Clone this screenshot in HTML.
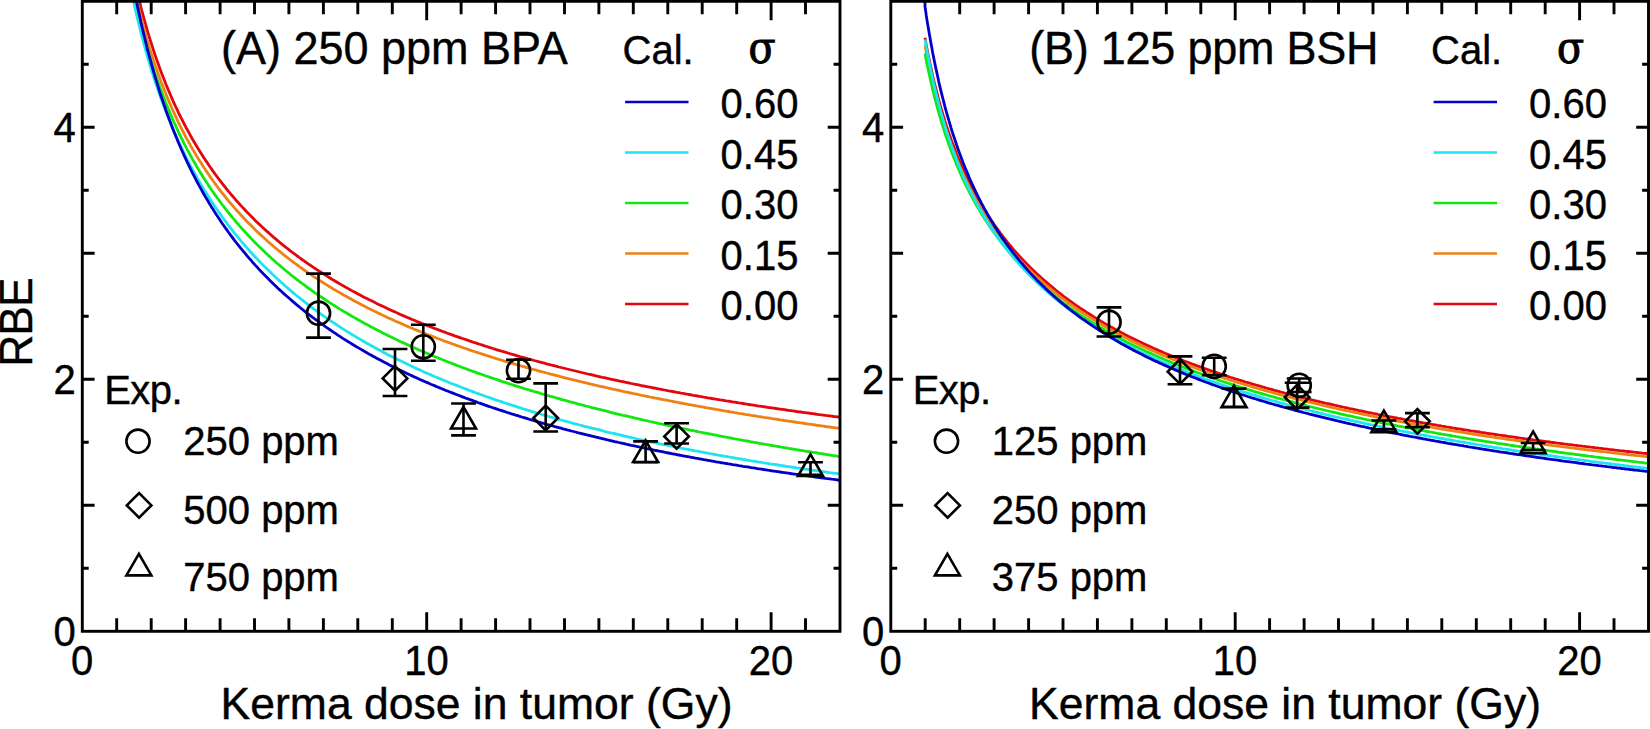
<!DOCTYPE html><html><head><meta charset="utf-8"><title>RBE vs kerma dose</title>
<style>html,body{margin:0;padding:0;background:#fff}svg{display:block}text{font-family:"Liberation Sans",Arial,sans-serif;fill:#000;stroke:#000;stroke-width:.4px}.s{font-family:"DejaVu Serif","Liberation Serif",serif}</style></head><body>
<svg width="1650" height="729" viewBox="0 0 1650 729">
<rect width="1650" height="729" fill="#fff"/>
<defs><clipPath id="ca"><rect x="82.3" y="1.3" width="757.7" height="630.0"/></clipPath><clipPath id="cb"><rect x="890.8" y="1.3" width="757.7" height="630.0"/></clipPath></defs>
<g clip-path="url(#ca)" fill="none" stroke-width="2.8" stroke-linejoin="round">
<path stroke="#e2060e" d="M132.6,-28.4 133.3,-25.1 134.0,-22.0 134.6,-18.9 135.3,-15.8 136.0,-12.8 136.7,-9.9 137.4,-7.0 138.1,-4.1 138.8,-1.3 139.5,1.5 140.2,4.2 140.8,6.9 141.5,9.5 142.2,12.2 142.9,14.7 143.6,17.3 144.3,19.8 145.0,22.2 145.7,24.7 146.4,27.1 147.0,29.4 147.7,31.8 148.4,34.1 149.1,36.4 149.8,38.6 150.5,40.8 151.2,43.0 151.9,45.2 152.6,47.3 153.2,49.4 153.9,51.5 154.6,53.6 155.3,55.6 156.0,57.6 156.7,59.6 157.4,61.6 158.1,63.5 158.8,65.4 159.4,67.3 160.1,69.2 160.8,71.0 161.5,72.9 162.2,74.7 162.9,76.5 163.6,78.3 164.3,80.0 165.0,81.8 165.6,83.5 166.3,85.2 167.0,86.9 167.7,88.5 168.4,90.2 169.1,91.8 169.8,93.4 170.5,95.0 171.2,96.6 171.8,98.2 172.5,99.7 173.2,101.3 173.9,102.8 174.6,104.3 175.3,105.8 176.0,107.3 176.7,108.7 177.4,110.2 178.0,111.6 178.7,113.1 179.4,114.5 180.1,115.9 180.8,117.3 181.5,118.7 182.2,120.0 182.9,121.4 183.6,122.7 184.2,124.0 184.9,125.4 185.6,126.7 186.3,128.0 187.0,129.2 187.7,130.5 188.4,131.8 189.1,133.0 189.8,134.3 190.4,135.5 191.1,136.7 191.8,138.0 192.5,139.2 193.2,140.4 193.9,141.5 194.6,142.7 195.3,143.9 196.0,145.0 196.6,146.2 197.3,147.3 198.0,148.5 198.7,149.6 199.4,150.7 200.1,151.8 200.8,152.9 201.5,154.0 202.2,155.1 202.8,156.1 203.5,157.2 204.2,158.3 204.9,159.3 205.6,160.4 206.3,161.4 207.0,162.4 207.7,163.4 208.4,164.5 209.0,165.5 209.7,166.5 210.4,167.5 211.1,168.4 211.8,169.4 212.5,170.4 213.2,171.4 213.9,172.3 214.5,173.3 215.2,174.2 215.9,175.2 216.6,176.1 217.3,177.0 218.0,178.0 218.7,178.9 219.4,179.8 220.1,180.7 222.1,183.4 224.2,186.0 226.3,188.6 228.3,191.1 230.4,193.6 232.5,196.0 234.5,198.4 236.6,200.8 238.7,203.1 240.7,205.4 242.8,207.6 244.9,209.8 246.9,212.0 249.0,214.1 251.1,216.3 253.1,218.3 255.2,220.4 257.3,222.4 259.3,224.3 261.4,226.3 263.5,228.2 265.5,230.1 267.6,231.9 269.7,233.8 271.7,235.6 273.8,237.4 275.9,239.1 277.9,240.9 280.0,242.6 282.1,244.3 284.1,245.9 286.2,247.6 288.3,249.2 290.3,250.8 292.4,252.4 294.5,253.9 296.5,255.5 298.6,257.0 300.6,258.5 302.7,260.0 304.8,261.4 306.8,262.9 308.9,264.3 311.0,265.7 313.0,267.1 315.1,268.5 317.2,269.9 319.2,271.2 321.3,272.5 323.4,273.9 325.4,275.2 327.5,276.4 329.6,277.7 331.6,279.0 333.7,280.2 335.8,281.5 337.8,282.7 339.9,283.9 342.0,285.1 344.0,286.3 346.1,287.4 348.2,288.6 350.2,289.7 352.3,290.9 354.4,292.0 356.4,293.1 358.5,294.2 360.6,295.3 362.6,296.4 364.7,297.5 366.8,298.5 368.8,299.6 370.9,300.6 373.0,301.6 375.0,302.6 377.1,303.7 379.2,304.7 381.2,305.6 383.3,306.6 385.4,307.6 387.4,308.6 389.5,309.5 391.6,310.5 393.6,311.4 395.7,312.3 397.8,313.2 399.8,314.2 401.9,315.1 404.0,316.0 406.0,316.9 408.1,317.7 410.2,318.6 412.2,319.5 414.3,320.3 416.4,321.2 418.4,322.0 420.5,322.9 422.6,323.7 424.6,324.5 426.7,325.4 428.8,326.2 430.8,327.0 432.9,327.8 435.0,328.6 437.0,329.3 439.1,330.1 441.2,330.9 443.2,331.7 445.3,332.4 447.4,333.2 449.4,333.9 451.5,334.7 453.6,335.4 455.6,336.2 457.7,336.9 459.8,337.6 461.8,338.3 463.9,339.0 466.0,339.7 468.0,340.4 470.1,341.1 472.2,341.8 474.2,342.5 476.3,343.2 478.4,343.9 480.4,344.5 482.5,345.2 484.6,345.9 486.6,346.5 488.7,347.2 490.8,347.8 492.8,348.5 494.9,349.1 497.0,349.8 499.0,350.4 501.1,351.0 503.2,351.6 505.2,352.2 507.3,352.9 509.4,353.5 511.4,354.1 513.5,354.7 515.6,355.3 517.6,355.9 519.7,356.5 521.8,357.0 523.8,357.6 525.9,358.2 528.0,358.8 530.0,359.3 532.1,359.9 534.2,360.5 536.2,361.0 538.3,361.6 540.4,362.1 542.4,362.7 544.5,363.2 546.6,363.8 548.6,364.3 550.7,364.9 552.8,365.4 554.8,365.9 556.9,366.4 558.9,367.0 561.0,367.5 563.1,368.0 565.1,368.5 567.2,369.0 569.3,369.5 571.3,370.0 573.4,370.5 575.5,371.0 577.5,371.5 579.6,372.0 581.7,372.5 583.7,373.0 585.8,373.5 587.9,374.0 589.9,374.4 592.0,374.9 594.1,375.4 596.1,375.9 598.2,376.3 600.3,376.8 602.3,377.3 604.4,377.7 606.5,378.2 608.5,378.6 610.6,379.1 612.7,379.5 614.7,380.0 616.8,380.4 618.9,380.9 620.9,381.3 623.0,381.7 625.1,382.2 627.1,382.6 629.2,383.0 631.3,383.5 633.3,383.9 635.4,384.3 637.5,384.7 639.5,385.1 641.6,385.6 643.7,386.0 645.7,386.4 647.8,386.8 649.9,387.2 651.9,387.6 654.0,388.0 656.1,388.4 658.1,388.8 660.2,389.2 662.3,389.6 664.3,390.0 666.4,390.4 668.5,390.8 670.5,391.1 672.6,391.5 674.7,391.9 676.7,392.3 678.8,392.7 680.9,393.1 682.9,393.4 685.0,393.8 687.1,394.2 689.1,394.5 691.2,394.9 693.3,395.3 695.3,395.6 697.4,396.0 699.5,396.4 701.5,396.7 703.6,397.1 705.7,397.4 707.7,397.8 709.8,398.1 711.9,398.5 713.9,398.8 716.0,399.2 718.1,399.5 720.1,399.9 722.2,400.2 724.3,400.5 726.3,400.9 728.4,401.2 730.5,401.5 732.5,401.9 734.6,402.2 736.7,402.5 738.7,402.9 740.8,403.2 742.9,403.5 744.9,403.8 747.0,404.2 749.1,404.5 751.1,404.8 753.2,405.1 755.3,405.4 757.3,405.8 759.4,406.1 761.5,406.4 763.5,406.7 765.6,407.0 767.7,407.3 769.7,407.6 771.8,407.9 773.9,408.2 775.9,408.5 778.0,408.8 780.1,409.1 782.1,409.4 784.2,409.7 786.3,410.0 788.3,410.3 790.4,410.6 792.5,410.9 794.5,411.2 796.6,411.5 798.7,411.8 800.7,412.0 802.8,412.3 804.9,412.6 806.9,412.9 809.0,413.2 811.1,413.5 813.1,413.7 815.2,414.0 817.2,414.3 819.3,414.6 821.4,414.8 823.4,415.1 825.5,415.4 827.6,415.6 829.6,415.9 831.7,416.2 833.8,416.5 835.8,416.7 837.9,417.0 840.0,417.2 840.0,417.2"/>
<path stroke="#ee8014" d="M130.5,-28.7 131.2,-25.3 131.9,-22.0 132.6,-18.7 133.3,-15.4 134.0,-12.3 134.6,-9.2 135.3,-6.1 136.0,-3.1 136.7,-0.1 137.4,2.8 138.1,5.7 138.8,8.5 139.5,11.3 140.2,14.1 140.8,16.8 141.5,19.4 142.2,22.0 142.9,24.6 143.6,27.2 144.3,29.7 145.0,32.2 145.7,34.6 146.4,37.0 147.0,39.4 147.7,41.7 148.4,44.0 149.1,46.3 149.8,48.6 150.5,50.8 151.2,53.0 151.9,55.2 152.6,57.3 153.2,59.4 153.9,61.5 154.6,63.6 155.3,65.6 156.0,67.6 156.7,69.6 157.4,71.5 158.1,73.5 158.8,75.4 159.4,77.3 160.1,79.2 160.8,81.0 161.5,82.9 162.2,84.7 162.9,86.5 163.6,88.2 164.3,90.0 165.0,91.7 165.6,93.4 166.3,95.1 167.0,96.8 167.7,98.5 168.4,100.1 169.1,101.8 169.8,103.4 170.5,105.0 171.2,106.6 171.8,108.1 172.5,109.7 173.2,111.2 173.9,112.7 174.6,114.2 175.3,115.7 176.0,117.2 176.7,118.7 177.4,120.1 178.0,121.5 178.7,123.0 179.4,124.4 180.1,125.8 180.8,127.2 181.5,128.5 182.2,129.9 182.9,131.2 183.6,132.6 184.2,133.9 184.9,135.2 185.6,136.5 186.3,137.8 187.0,139.1 187.7,140.4 188.4,141.6 189.1,142.9 189.8,144.1 190.4,145.3 191.1,146.6 191.8,147.8 192.5,149.0 193.2,150.2 193.9,151.3 194.6,152.5 195.3,153.7 196.0,154.8 196.6,156.0 197.3,157.1 198.0,158.2 198.7,159.3 199.4,160.4 200.1,161.5 200.8,162.6 201.5,163.7 202.2,164.8 202.8,165.9 203.5,166.9 204.2,168.0 204.9,169.0 205.6,170.1 206.3,171.1 207.0,172.1 207.7,173.1 208.4,174.1 209.0,175.1 209.7,176.1 210.4,177.1 211.1,178.1 211.8,179.1 212.5,180.0 213.2,181.0 213.9,181.9 214.5,182.9 215.2,183.8 215.9,184.8 216.6,185.7 217.3,186.6 218.0,187.5 218.7,188.5 219.4,189.4 220.1,190.3 222.1,192.9 224.2,195.5 226.3,198.1 228.3,200.6 230.4,203.1 232.5,205.5 234.5,207.9 236.6,210.2 238.7,212.5 240.7,214.8 242.8,217.0 244.9,219.2 246.9,221.4 249.0,223.5 251.1,225.6 253.1,227.6 255.2,229.7 257.3,231.7 259.3,233.6 261.4,235.5 263.5,237.4 265.5,239.3 267.6,241.2 269.7,243.0 271.7,244.8 273.8,246.6 275.9,248.3 277.9,250.0 280.0,251.7 282.1,253.4 284.1,255.1 286.2,256.7 288.3,258.3 290.3,259.9 292.4,261.5 294.5,263.0 296.5,264.5 298.6,266.0 300.6,267.5 302.7,269.0 304.8,270.5 306.8,271.9 308.9,273.3 311.0,274.7 313.0,276.1 315.1,277.5 317.2,278.8 319.2,280.2 321.3,281.5 323.4,282.8 325.4,284.1 327.5,285.4 329.6,286.7 331.6,287.9 333.7,289.2 335.8,290.4 337.8,291.6 339.9,292.8 342.0,294.0 344.0,295.2 346.1,296.3 348.2,297.5 350.2,298.6 352.3,299.8 354.4,300.9 356.4,302.0 358.5,303.1 360.6,304.2 362.6,305.3 364.7,306.3 366.8,307.4 368.8,308.4 370.9,309.5 373.0,310.5 375.0,311.5 377.1,312.5 379.2,313.5 381.2,314.5 383.3,315.5 385.4,316.4 387.4,317.4 389.5,318.4 391.6,319.3 393.6,320.2 395.7,321.2 397.8,322.1 399.8,323.0 401.9,323.9 404.0,324.8 406.0,325.7 408.1,326.6 410.2,327.5 412.2,328.3 414.3,329.2 416.4,330.0 418.4,330.9 420.5,331.7 422.6,332.6 424.6,333.4 426.7,334.2 428.8,335.0 430.8,335.8 432.9,336.6 435.0,337.4 437.0,338.2 439.1,339.0 441.2,339.8 443.2,340.6 445.3,341.3 447.4,342.1 449.4,342.8 451.5,343.6 453.6,344.3 455.6,345.1 457.7,345.8 459.8,346.5 461.8,347.2 463.9,348.0 466.0,348.7 468.0,349.4 470.1,350.1 472.2,350.8 474.2,351.5 476.3,352.2 478.4,352.8 480.4,353.5 482.5,354.2 484.6,354.9 486.6,355.5 488.7,356.2 490.8,356.8 492.8,357.5 494.9,358.1 497.0,358.8 499.0,359.4 501.1,360.0 503.2,360.7 505.2,361.3 507.3,361.9 509.4,362.5 511.4,363.1 513.5,363.7 515.6,364.4 517.6,365.0 519.7,365.5 521.8,366.1 523.8,366.7 525.9,367.3 528.0,367.9 530.0,368.5 532.1,369.1 534.2,369.6 536.2,370.2 538.3,370.8 540.4,371.3 542.4,371.9 544.5,372.4 546.6,373.0 548.6,373.5 550.7,374.1 552.8,374.6 554.8,375.2 556.9,375.7 558.9,376.2 561.0,376.8 563.1,377.3 565.1,377.8 567.2,378.3 569.3,378.8 571.3,379.4 573.4,379.9 575.5,380.4 577.5,380.9 579.6,381.4 581.7,381.9 583.7,382.4 585.8,382.9 587.9,383.4 589.9,383.9 592.0,384.3 594.1,384.8 596.1,385.3 598.2,385.8 600.3,386.3 602.3,386.7 604.4,387.2 606.5,387.7 608.5,388.1 610.6,388.6 612.7,389.1 614.7,389.5 616.8,390.0 618.9,390.4 620.9,390.9 623.0,391.3 625.1,391.8 627.1,392.2 629.2,392.7 631.3,393.1 633.3,393.5 635.4,394.0 637.5,394.4 639.5,394.8 641.6,395.3 643.7,395.7 645.7,396.1 647.8,396.5 649.9,397.0 651.9,397.4 654.0,397.8 656.1,398.2 658.1,398.6 660.2,399.0 662.3,399.4 664.3,399.8 666.4,400.2 668.5,400.6 670.5,401.0 672.6,401.4 674.7,401.8 676.7,402.2 678.8,402.6 680.9,403.0 682.9,403.4 685.0,403.8 687.1,404.2 689.1,404.6 691.2,404.9 693.3,405.3 695.3,405.7 697.4,406.1 699.5,406.4 701.5,406.8 703.6,407.2 705.7,407.6 707.7,407.9 709.8,408.3 711.9,408.7 713.9,409.0 716.0,409.4 718.1,409.7 720.1,410.1 722.2,410.5 724.3,410.8 726.3,411.2 728.4,411.5 730.5,411.9 732.5,412.2 734.6,412.6 736.7,412.9 738.7,413.3 740.8,413.6 742.9,413.9 744.9,414.3 747.0,414.6 749.1,414.9 751.1,415.3 753.2,415.6 755.3,415.9 757.3,416.3 759.4,416.6 761.5,416.9 763.5,417.3 765.6,417.6 767.7,417.9 769.7,418.2 771.8,418.6 773.9,418.9 775.9,419.2 778.0,419.5 780.1,419.8 782.1,420.1 784.2,420.5 786.3,420.8 788.3,421.1 790.4,421.4 792.5,421.7 794.5,422.0 796.6,422.3 798.7,422.6 800.7,422.9 802.8,423.2 804.9,423.5 806.9,423.8 809.0,424.1 811.1,424.4 813.1,424.7 815.2,425.0 817.2,425.3 819.3,425.6 821.4,425.9 823.4,426.2 825.5,426.5 827.6,426.8 829.6,427.0 831.7,427.3 833.8,427.6 835.8,427.9 837.9,428.2 840.0,428.5 840.0,428.5"/>
<path stroke="#10e810" d="M129.1,-27.6 129.8,-24.1 130.5,-20.6 131.2,-17.2 131.9,-13.9 132.6,-10.6 133.3,-7.3 134.0,-4.2 134.6,-1.0 135.3,2.0 136.0,5.0 136.7,8.0 137.4,11.0 138.1,13.8 138.8,16.7 139.5,19.5 140.2,22.2 140.8,24.9 141.5,27.6 142.2,30.3 142.9,32.9 143.6,35.4 144.3,38.0 145.0,40.4 145.7,42.9 146.4,45.3 147.0,47.7 147.7,50.1 148.4,52.4 149.1,54.7 149.8,57.0 150.5,59.2 151.2,61.5 151.9,63.6 152.6,65.8 153.2,67.9 153.9,70.0 154.6,72.1 155.3,74.2 156.0,76.2 156.7,78.2 157.4,80.2 158.1,82.2 158.8,84.1 159.4,86.1 160.1,88.0 160.8,89.8 161.5,91.7 162.2,93.5 162.9,95.4 163.6,97.2 164.3,98.9 165.0,100.7 165.6,102.5 166.3,104.2 167.0,105.9 167.7,107.6 168.4,109.3 169.1,110.9 169.8,112.6 170.5,114.2 171.2,115.8 171.8,117.4 172.5,119.0 173.2,120.5 173.9,122.1 174.6,123.6 175.3,125.2 176.0,126.7 176.7,128.2 177.4,129.6 178.0,131.1 178.7,132.6 179.4,134.0 180.1,135.4 180.8,136.8 181.5,138.2 182.2,139.6 182.9,141.0 183.6,142.4 184.2,143.7 184.9,145.1 185.6,146.4 186.3,147.7 187.0,149.1 187.7,150.4 188.4,151.6 189.1,152.9 189.8,154.2 190.4,155.5 191.1,156.7 191.8,157.9 192.5,159.2 193.2,160.4 193.9,161.6 194.6,162.8 195.3,164.0 196.0,165.2 196.6,166.4 197.3,167.5 198.0,168.7 198.7,169.8 199.4,171.0 200.1,172.1 200.8,173.2 201.5,174.3 202.2,175.5 202.8,176.6 203.5,177.6 204.2,178.7 204.9,179.8 205.6,180.9 206.3,181.9 207.0,183.0 207.7,184.0 208.4,185.1 209.0,186.1 209.7,187.1 210.4,188.2 211.1,189.2 211.8,190.2 212.5,191.2 213.2,192.2 213.9,193.1 214.5,194.1 215.2,195.1 215.9,196.1 216.6,197.0 217.3,198.0 218.0,198.9 218.7,199.9 219.4,200.8 220.1,201.7 222.1,204.5 224.2,207.2 226.3,209.9 228.3,212.5 230.4,215.0 232.5,217.5 234.5,220.0 236.6,222.5 238.7,224.8 240.7,227.2 242.8,229.5 244.9,231.8 246.9,234.0 249.0,236.2 251.1,238.4 253.1,240.6 255.2,242.7 257.3,244.8 259.3,246.8 261.4,248.8 263.5,250.8 265.5,252.8 267.6,254.7 269.7,256.6 271.7,258.5 273.8,260.3 275.9,262.2 277.9,264.0 280.0,265.7 282.1,267.5 284.1,269.2 286.2,271.0 288.3,272.6 290.3,274.3 292.4,276.0 294.5,277.6 296.5,279.2 298.6,280.8 300.6,282.4 302.7,283.9 304.8,285.4 306.8,287.0 308.9,288.5 311.0,289.9 313.0,291.4 315.1,292.9 317.2,294.3 319.2,295.7 321.3,297.1 323.4,298.5 325.4,299.9 327.5,301.2 329.6,302.6 331.6,303.9 333.7,305.2 335.8,306.5 337.8,307.8 339.9,309.1 342.0,310.3 344.0,311.6 346.1,312.8 348.2,314.0 350.2,315.2 352.3,316.4 354.4,317.6 356.4,318.8 358.5,320.0 360.6,321.1 362.6,322.3 364.7,323.4 366.8,324.5 368.8,325.6 370.9,326.8 373.0,327.8 375.0,328.9 377.1,330.0 379.2,331.1 381.2,332.1 383.3,333.2 385.4,334.2 387.4,335.2 389.5,336.3 391.6,337.3 393.6,338.3 395.7,339.3 397.8,340.2 399.8,341.2 401.9,342.2 404.0,343.1 406.0,344.1 408.1,345.0 410.2,346.0 412.2,346.9 414.3,347.8 416.4,348.8 418.4,349.7 420.5,350.6 422.6,351.5 424.6,352.3 426.7,353.2 428.8,354.1 430.8,355.0 432.9,355.8 435.0,356.7 437.0,357.5 439.1,358.4 441.2,359.2 443.2,360.0 445.3,360.9 447.4,361.7 449.4,362.5 451.5,363.3 453.6,364.1 455.6,364.9 457.7,365.7 459.8,366.5 461.8,367.3 463.9,368.0 466.0,368.8 468.0,369.6 470.1,370.3 472.2,371.1 474.2,371.8 476.3,372.6 478.4,373.3 480.4,374.0 482.5,374.7 484.6,375.5 486.6,376.2 488.7,376.9 490.8,377.6 492.8,378.3 494.9,379.0 497.0,379.7 499.0,380.4 501.1,381.1 503.2,381.8 505.2,382.4 507.3,383.1 509.4,383.8 511.4,384.5 513.5,385.1 515.6,385.8 517.6,386.4 519.7,387.1 521.8,387.7 523.8,388.4 525.9,389.0 528.0,389.6 530.0,390.3 532.1,390.9 534.2,391.5 536.2,392.1 538.3,392.7 540.4,393.4 542.4,394.0 544.5,394.6 546.6,395.2 548.6,395.8 550.7,396.4 552.8,396.9 554.8,397.5 556.9,398.1 558.9,398.7 561.0,399.3 563.1,399.9 565.1,400.4 567.2,401.0 569.3,401.6 571.3,402.1 573.4,402.7 575.5,403.2 577.5,403.8 579.6,404.3 581.7,404.9 583.7,405.4 585.8,406.0 587.9,406.5 589.9,407.0 592.0,407.6 594.1,408.1 596.1,408.6 598.2,409.2 600.3,409.7 602.3,410.2 604.4,410.7 606.5,411.2 608.5,411.7 610.6,412.3 612.7,412.8 614.7,413.3 616.8,413.8 618.9,414.3 620.9,414.8 623.0,415.3 625.1,415.7 627.1,416.2 629.2,416.7 631.3,417.2 633.3,417.7 635.4,418.2 637.5,418.6 639.5,419.1 641.6,419.6 643.7,420.1 645.7,420.5 647.8,421.0 649.9,421.5 651.9,421.9 654.0,422.4 656.1,422.8 658.1,423.3 660.2,423.7 662.3,424.2 664.3,424.6 666.4,425.1 668.5,425.5 670.5,426.0 672.6,426.4 674.7,426.9 676.7,427.3 678.8,427.7 680.9,428.2 682.9,428.6 685.0,429.0 687.1,429.4 689.1,429.9 691.2,430.3 693.3,430.7 695.3,431.1 697.4,431.5 699.5,432.0 701.5,432.4 703.6,432.8 705.7,433.2 707.7,433.6 709.8,434.0 711.9,434.4 713.9,434.8 716.0,435.2 718.1,435.6 720.1,436.0 722.2,436.4 724.3,436.8 726.3,437.2 728.4,437.6 730.5,438.0 732.5,438.4 734.6,438.8 736.7,439.1 738.7,439.5 740.8,439.9 742.9,440.3 744.9,440.7 747.0,441.0 749.1,441.4 751.1,441.8 753.2,442.2 755.3,442.5 757.3,442.9 759.4,443.3 761.5,443.6 763.5,444.0 765.6,444.4 767.7,444.7 769.7,445.1 771.8,445.5 773.9,445.8 775.9,446.2 778.0,446.5 780.1,446.9 782.1,447.2 784.2,447.6 786.3,447.9 788.3,448.3 790.4,448.6 792.5,449.0 794.5,449.3 796.6,449.7 798.7,450.0 800.7,450.3 802.8,450.7 804.9,451.0 806.9,451.4 809.0,451.7 811.1,452.0 813.1,452.4 815.2,452.7 817.2,453.0 819.3,453.4 821.4,453.7 823.4,454.0 825.5,454.3 827.6,454.7 829.6,455.0 831.7,455.3 833.8,455.6 835.8,455.9 837.9,456.3 840.0,456.6 840.0,456.6"/>
<path stroke="#1ee3f0" d="M127.8,-27.4 128.4,-23.8 129.1,-20.3 129.8,-16.8 130.5,-13.3 131.2,-10.0 131.9,-6.6 132.6,-3.4 133.3,-0.1 134.0,3.0 134.6,6.1 135.3,9.2 136.0,12.2 136.7,15.2 137.4,18.1 138.1,21.0 138.8,23.9 139.5,26.7 140.2,29.5 140.8,32.2 141.5,34.9 142.2,37.5 142.9,40.1 143.6,42.7 144.3,45.3 145.0,47.8 145.7,50.3 146.4,52.7 147.0,55.2 147.7,57.5 148.4,59.9 149.1,62.2 149.8,64.5 150.5,66.8 151.2,69.1 151.9,71.3 152.6,73.5 153.2,75.7 153.9,77.8 154.6,79.9 155.3,82.0 156.0,84.1 156.7,86.1 157.4,88.2 158.1,90.2 158.8,92.2 159.4,94.1 160.1,96.1 160.8,98.0 161.5,99.9 162.2,101.8 162.9,103.6 163.6,105.5 164.3,107.3 165.0,109.1 165.6,110.9 166.3,112.7 167.0,114.4 167.7,116.2 168.4,117.9 169.1,119.6 169.8,121.3 170.5,123.0 171.2,124.6 171.8,126.3 172.5,127.9 173.2,129.5 173.9,131.1 174.6,132.7 175.3,134.3 176.0,135.8 176.7,137.4 177.4,138.9 178.0,140.4 178.7,141.9 179.4,143.4 180.1,144.9 180.8,146.3 181.5,147.8 182.2,149.2 182.9,150.7 183.6,152.1 184.2,153.5 184.9,154.9 185.6,156.3 186.3,157.6 187.0,159.0 187.7,160.3 188.4,161.7 189.1,163.0 189.8,164.3 190.4,165.6 191.1,166.9 191.8,168.2 192.5,169.5 193.2,170.8 193.9,172.0 194.6,173.3 195.3,174.5 196.0,175.7 196.6,177.0 197.3,178.2 198.0,179.4 198.7,180.6 199.4,181.8 200.1,183.0 200.8,184.1 201.5,185.3 202.2,186.4 202.8,187.6 203.5,188.7 204.2,189.9 204.9,191.0 205.6,192.1 206.3,193.2 207.0,194.3 207.7,195.4 208.4,196.5 209.0,197.6 209.7,198.6 210.4,199.7 211.1,200.8 211.8,201.8 212.5,202.9 213.2,203.9 213.9,204.9 214.5,206.0 215.2,207.0 215.9,208.0 216.6,209.0 217.3,210.0 218.0,211.0 218.7,212.0 219.4,213.0 220.1,213.9 222.1,216.8 224.2,219.7 226.3,222.4 228.3,225.2 230.4,227.9 232.5,230.5 234.5,233.1 236.6,235.7 238.7,238.2 240.7,240.7 242.8,243.1 244.9,245.5 246.9,247.9 249.0,250.2 251.1,252.5 253.1,254.7 255.2,257.0 257.3,259.1 259.3,261.3 261.4,263.4 263.5,265.5 265.5,267.6 267.6,269.6 269.7,271.6 271.7,273.6 273.8,275.6 275.9,277.5 277.9,279.4 280.0,281.3 282.1,283.1 284.1,285.0 286.2,286.8 288.3,288.6 290.3,290.3 292.4,292.1 294.5,293.8 296.5,295.5 298.6,297.1 300.6,298.8 302.7,300.4 304.8,302.1 306.8,303.7 308.9,305.2 311.0,306.8 313.0,308.3 315.1,309.9 317.2,311.4 319.2,312.9 321.3,314.3 323.4,315.8 325.4,317.2 327.5,318.7 329.6,320.1 331.6,321.5 333.7,322.9 335.8,324.2 337.8,325.6 339.9,326.9 342.0,328.3 344.0,329.6 346.1,330.9 348.2,332.2 350.2,333.4 352.3,334.7 354.4,335.9 356.4,337.2 358.5,338.4 360.6,339.6 362.6,340.8 364.7,342.0 366.8,343.2 368.8,344.3 370.9,345.5 373.0,346.6 375.0,347.8 377.1,348.9 379.2,350.0 381.2,351.1 383.3,352.2 385.4,353.3 387.4,354.4 389.5,355.4 391.6,356.5 393.6,357.5 395.7,358.6 397.8,359.6 399.8,360.6 401.9,361.6 404.0,362.6 406.0,363.6 408.1,364.6 410.2,365.6 412.2,366.5 414.3,367.5 416.4,368.4 418.4,369.4 420.5,370.3 422.6,371.2 424.6,372.2 426.7,373.1 428.8,374.0 430.8,374.9 432.9,375.8 435.0,376.7 437.0,377.5 439.1,378.4 441.2,379.3 443.2,380.1 445.3,381.0 447.4,381.8 449.4,382.7 451.5,383.5 453.6,384.3 455.6,385.1 457.7,385.9 459.8,386.7 461.8,387.5 463.9,388.3 466.0,389.1 468.0,389.9 470.1,390.7 472.2,391.4 474.2,392.2 476.3,393.0 478.4,393.7 480.4,394.5 482.5,395.2 484.6,396.0 486.6,396.7 488.7,397.4 490.8,398.1 492.8,398.9 494.9,399.6 497.0,400.3 499.0,401.0 501.1,401.7 503.2,402.4 505.2,403.0 507.3,403.7 509.4,404.4 511.4,405.1 513.5,405.7 515.6,406.4 517.6,407.1 519.7,407.7 521.8,408.4 523.8,409.0 525.9,409.7 528.0,410.3 530.0,410.9 532.1,411.6 534.2,412.2 536.2,412.8 538.3,413.4 540.4,414.0 542.4,414.7 544.5,415.3 546.6,415.9 548.6,416.5 550.7,417.1 552.8,417.6 554.8,418.2 556.9,418.8 558.9,419.4 561.0,420.0 563.1,420.5 565.1,421.1 567.2,421.7 569.3,422.2 571.3,422.8 573.4,423.3 575.5,423.9 577.5,424.4 579.6,425.0 581.7,425.5 583.7,426.1 585.8,426.6 587.9,427.1 589.9,427.6 592.0,428.2 594.1,428.7 596.1,429.2 598.2,429.7 600.3,430.2 602.3,430.7 604.4,431.3 606.5,431.8 608.5,432.3 610.6,432.8 612.7,433.2 614.7,433.7 616.8,434.2 618.9,434.7 620.9,435.2 623.0,435.7 625.1,436.1 627.1,436.6 629.2,437.1 631.3,437.6 633.3,438.0 635.4,438.5 637.5,439.0 639.5,439.4 641.6,439.9 643.7,440.3 645.7,440.8 647.8,441.2 649.9,441.7 651.9,442.1 654.0,442.5 656.1,443.0 658.1,443.4 660.2,443.9 662.3,444.3 664.3,444.7 666.4,445.1 668.5,445.6 670.5,446.0 672.6,446.4 674.7,446.8 676.7,447.2 678.8,447.6 680.9,448.1 682.9,448.5 685.0,448.9 687.1,449.3 689.1,449.7 691.2,450.1 693.3,450.5 695.3,450.9 697.4,451.2 699.5,451.6 701.5,452.0 703.6,452.4 705.7,452.8 707.7,453.2 709.8,453.6 711.9,453.9 713.9,454.3 716.0,454.7 718.1,455.1 720.1,455.4 722.2,455.8 724.3,456.2 726.3,456.5 728.4,456.9 730.5,457.2 732.5,457.6 734.6,458.0 736.7,458.3 738.7,458.7 740.8,459.0 742.9,459.4 744.9,459.7 747.0,460.1 749.1,460.4 751.1,460.8 753.2,461.1 755.3,461.4 757.3,461.8 759.4,462.1 761.5,462.4 763.5,462.8 765.6,463.1 767.7,463.4 769.7,463.8 771.8,464.1 773.9,464.4 775.9,464.7 778.0,465.0 780.1,465.4 782.1,465.7 784.2,466.0 786.3,466.3 788.3,466.6 790.4,466.9 792.5,467.2 794.5,467.5 796.6,467.9 798.7,468.2 800.7,468.5 802.8,468.8 804.9,469.1 806.9,469.4 809.0,469.7 811.1,470.0 813.1,470.3 815.2,470.5 817.2,470.8 819.3,471.1 821.4,471.4 823.4,471.7 825.5,472.0 827.6,472.3 829.6,472.6 831.7,472.8 833.8,473.1 835.8,473.4 837.9,473.7 840.0,473.9 840.0,473.9"/>
<path stroke="#0000c8" d="M131.2,-26.3 131.9,-22.5 132.6,-18.7 133.3,-15.0 134.0,-11.4 134.6,-7.8 135.3,-4.3 136.0,-0.9 136.7,2.5 137.4,5.8 138.1,9.1 138.8,12.3 139.5,15.5 140.2,18.7 140.8,21.7 141.5,24.8 142.2,27.8 142.9,30.7 143.6,33.6 144.3,36.5 145.0,39.3 145.7,42.1 146.4,44.9 147.0,47.6 147.7,50.3 148.4,52.9 149.1,55.5 149.8,58.1 150.5,60.6 151.2,63.1 151.9,65.6 152.6,68.1 153.2,70.5 153.9,72.9 154.6,75.2 155.3,77.6 156.0,79.9 156.7,82.1 157.4,84.4 158.1,86.6 158.8,88.8 159.4,91.0 160.1,93.1 160.8,95.2 161.5,97.3 162.2,99.4 162.9,101.4 163.6,103.5 164.3,105.5 165.0,107.5 165.6,109.4 166.3,111.4 167.0,113.3 167.7,115.2 168.4,117.1 169.1,118.9 169.8,120.8 170.5,122.6 171.2,124.4 171.8,126.2 172.5,128.0 173.2,129.8 173.9,131.5 174.6,133.2 175.3,134.9 176.0,136.6 176.7,138.3 177.4,139.9 178.0,141.6 178.7,143.2 179.4,144.8 180.1,146.4 180.8,148.0 181.5,149.6 182.2,151.1 182.9,152.7 183.6,154.2 184.2,155.7 184.9,157.2 185.6,158.7 186.3,160.2 187.0,161.7 187.7,163.1 188.4,164.6 189.1,166.0 189.8,167.4 190.4,168.8 191.1,170.2 191.8,171.6 192.5,173.0 193.2,174.3 193.9,175.7 194.6,177.0 195.3,178.3 196.0,179.7 196.6,181.0 197.3,182.3 198.0,183.5 198.7,184.8 199.4,186.1 200.1,187.3 200.8,188.6 201.5,189.8 202.2,191.1 202.8,192.3 203.5,193.5 204.2,194.7 204.9,195.9 205.6,197.1 206.3,198.3 207.0,199.4 207.7,200.6 208.4,201.7 209.0,202.9 209.7,204.0 210.4,205.1 211.1,206.3 211.8,207.4 212.5,208.5 213.2,209.6 213.9,210.7 214.5,211.8 215.2,212.8 215.9,213.9 216.6,215.0 217.3,216.0 218.0,217.1 218.7,218.1 219.4,219.1 220.1,220.2 222.1,223.2 224.2,226.2 226.3,229.1 228.3,232.0 230.4,234.8 232.5,237.6 234.5,240.3 236.6,243.0 238.7,245.6 240.7,248.2 242.8,250.7 244.9,253.2 246.9,255.6 249.0,258.1 251.1,260.4 253.1,262.8 255.2,265.1 257.3,267.3 259.3,269.6 261.4,271.8 263.5,273.9 265.5,276.0 267.6,278.1 269.7,280.2 271.7,282.2 273.8,284.3 275.9,286.2 277.9,288.2 280.0,290.1 282.1,292.0 284.1,293.9 286.2,295.7 288.3,297.5 290.3,299.3 292.4,301.1 294.5,302.9 296.5,304.6 298.6,306.3 300.6,308.0 302.7,309.7 304.8,311.3 306.8,312.9 308.9,314.5 311.0,316.1 313.0,317.7 315.1,319.2 317.2,320.7 319.2,322.2 321.3,323.7 323.4,325.2 325.4,326.7 327.5,328.1 329.6,329.5 331.6,330.9 333.7,332.3 335.8,333.7 337.8,335.1 339.9,336.4 342.0,337.8 344.0,339.1 346.1,340.4 348.2,341.7 350.2,342.9 352.3,344.2 354.4,345.5 356.4,346.7 358.5,347.9 360.6,349.1 362.6,350.3 364.7,351.5 366.8,352.7 368.8,353.9 370.9,355.0 373.0,356.2 375.0,357.3 377.1,358.4 379.2,359.5 381.2,360.6 383.3,361.7 385.4,362.8 387.4,363.8 389.5,364.9 391.6,365.9 393.6,367.0 395.7,368.0 397.8,369.0 399.8,370.0 401.9,371.0 404.0,372.0 406.0,373.0 408.1,374.0 410.2,375.0 412.2,375.9 414.3,376.9 416.4,377.8 418.4,378.7 420.5,379.7 422.6,380.6 424.6,381.5 426.7,382.4 428.8,383.3 430.8,384.2 432.9,385.0 435.0,385.9 437.0,386.8 439.1,387.6 441.2,388.5 443.2,389.3 445.3,390.2 447.4,391.0 449.4,391.8 451.5,392.6 453.6,393.4 455.6,394.2 457.7,395.0 459.8,395.8 461.8,396.6 463.9,397.4 466.0,398.2 468.0,398.9 470.1,399.7 472.2,400.4 474.2,401.2 476.3,401.9 478.4,402.7 480.4,403.4 482.5,404.1 484.6,404.9 486.6,405.6 488.7,406.3 490.8,407.0 492.8,407.7 494.9,408.4 497.0,409.1 499.0,409.8 501.1,410.4 503.2,411.1 505.2,411.8 507.3,412.5 509.4,413.1 511.4,413.8 513.5,414.4 515.6,415.1 517.6,415.7 519.7,416.3 521.8,417.0 523.8,417.6 525.9,418.2 528.0,418.9 530.0,419.5 532.1,420.1 534.2,420.7 536.2,421.3 538.3,421.9 540.4,422.5 542.4,423.1 544.5,423.7 546.6,424.3 548.6,424.8 550.7,425.4 552.8,426.0 554.8,426.6 556.9,427.1 558.9,427.7 561.0,428.2 563.1,428.8 565.1,429.3 567.2,429.9 569.3,430.4 571.3,431.0 573.4,431.5 575.5,432.0 577.5,432.6 579.6,433.1 581.7,433.6 583.7,434.1 585.8,434.7 587.9,435.2 589.9,435.7 592.0,436.2 594.1,436.7 596.1,437.2 598.2,437.7 600.3,438.2 602.3,438.7 604.4,439.2 606.5,439.7 608.5,440.1 610.6,440.6 612.7,441.1 614.7,441.6 616.8,442.0 618.9,442.5 620.9,443.0 623.0,443.4 625.1,443.9 627.1,444.4 629.2,444.8 631.3,445.3 633.3,445.7 635.4,446.2 637.5,446.6 639.5,447.0 641.6,447.5 643.7,447.9 645.7,448.4 647.8,448.8 649.9,449.2 651.9,449.6 654.0,450.1 656.1,450.5 658.1,450.9 660.2,451.3 662.3,451.7 664.3,452.2 666.4,452.6 668.5,453.0 670.5,453.4 672.6,453.8 674.7,454.2 676.7,454.6 678.8,455.0 680.9,455.4 682.9,455.8 685.0,456.2 687.1,456.5 689.1,456.9 691.2,457.3 693.3,457.7 695.3,458.1 697.4,458.4 699.5,458.8 701.5,459.2 703.6,459.6 705.7,459.9 707.7,460.3 709.8,460.7 711.9,461.0 713.9,461.4 716.0,461.8 718.1,462.1 720.1,462.5 722.2,462.8 724.3,463.2 726.3,463.5 728.4,463.9 730.5,464.2 732.5,464.6 734.6,464.9 736.7,465.2 738.7,465.6 740.8,465.9 742.9,466.3 744.9,466.6 747.0,466.9 749.1,467.2 751.1,467.6 753.2,467.9 755.3,468.2 757.3,468.6 759.4,468.9 761.5,469.2 763.5,469.5 765.6,469.8 767.7,470.1 769.7,470.5 771.8,470.8 773.9,471.1 775.9,471.4 778.0,471.7 780.1,472.0 782.1,472.3 784.2,472.6 786.3,472.9 788.3,473.2 790.4,473.5 792.5,473.8 794.5,474.1 796.6,474.4 798.7,474.7 800.7,475.0 802.8,475.3 804.9,475.6 806.9,475.8 809.0,476.1 811.1,476.4 813.1,476.7 815.2,477.0 817.2,477.3 819.3,477.5 821.4,477.8 823.4,478.1 825.5,478.4 827.6,478.6 829.6,478.9 831.7,479.2 833.8,479.4 835.8,479.7 837.9,480.0 840.0,480.2 840.0,480.2"/>
</g>
<g fill="none" stroke="#000" stroke-width="2.9"><rect x="82.3" y="1.3" width="757.7" height="630.0"/><path d="M116.7,631.3 v-13.0 M116.7,1.3 v13.0 M151.2,631.3 v-13.0 M151.2,1.3 v13.0 M185.6,631.3 v-13.0 M185.6,1.3 v13.0 M220.1,631.3 v-13.0 M220.1,1.3 v13.0 M254.5,631.3 v-13.0 M254.5,1.3 v13.0 M288.9,631.3 v-13.0 M288.9,1.3 v13.0 M323.4,631.3 v-13.0 M323.4,1.3 v13.0 M357.8,631.3 v-13.0 M357.8,1.3 v13.0 M392.3,631.3 v-13.0 M392.3,1.3 v13.0 M426.7,631.3 v-19.0 M426.7,1.3 v19.0 M461.1,631.3 v-13.0 M461.1,1.3 v13.0 M495.6,631.3 v-13.0 M495.6,1.3 v13.0 M530.0,631.3 v-13.0 M530.0,1.3 v13.0 M564.5,631.3 v-13.0 M564.5,1.3 v13.0 M598.9,631.3 v-13.0 M598.9,1.3 v13.0 M633.3,631.3 v-13.0 M633.3,1.3 v13.0 M667.8,631.3 v-13.0 M667.8,1.3 v13.0 M702.2,631.3 v-13.0 M702.2,1.3 v13.0 M736.7,631.3 v-13.0 M736.7,1.3 v13.0 M771.1,631.3 v-19.0 M771.1,1.3 v19.0 M805.5,631.3 v-13.0 M805.5,1.3 v13.0 M82.3,568.3 h6.4 M840.0,568.3 h-6.4 M82.3,505.3 h12.3 M840.0,505.3 h-12.3 M82.3,442.3 h6.4 M840.0,442.3 h-6.4 M82.3,379.3 h12.3 M840.0,379.3 h-12.3 M82.3,316.3 h6.4 M840.0,316.3 h-6.4 M82.3,253.3 h12.3 M840.0,253.3 h-12.3 M82.3,190.3 h6.4 M840.0,190.3 h-6.4 M82.3,127.3 h12.3 M840.0,127.3 h-12.3 M82.3,64.3 h6.4 M840.0,64.3 h-6.4"/></g>
<g fill="none" stroke="#000" stroke-width="2.6" stroke-miterlimit="10">
<path d="M318.5,273.6 V337.6 M306.1,273.6 h24.8 M306.1,337.6 h24.8"/>
<circle cx="318.5" cy="313.2" r="11.6"/>
<path d="M423.3,324.8 V360.8 M410.9,324.8 h24.8 M410.9,360.8 h24.8"/>
<circle cx="423.3" cy="346.8" r="11.6"/>
<path d="M518.5,359.7 V378.8 M506.1,359.7 h24.8 M506.1,378.8 h24.8"/>
<circle cx="518.5" cy="370.6" r="11.6"/>
<path d="M395.0,349.0 V396.0 M382.6,349.0 h24.8 M382.6,396.0 h24.8"/>
<path d="M382.7,378.4 l12.3,-12.3 l12.3,12.3 l-12.3,12.3 z"/>
<path d="M545.7,383.4 V431.5 M533.3,383.4 h24.8 M533.3,431.5 h24.8"/>
<path d="M533.4,418.0 l12.3,-12.3 l12.3,12.3 l-12.3,12.3 z"/>
<path d="M676.6,423.3 V443.5 M664.2,423.3 h24.8 M664.2,443.5 h24.8"/>
<path d="M664.3,436.4 l12.3,-12.3 l12.3,12.3 l-12.3,12.3 z"/>
<path d="M463.5,403.5 V435.4 M451.1,403.5 h24.8 M451.1,435.4 h24.8"/>
<path d="M463.5,406.9 l12.5,21.6 h-25.0 z"/>
<path d="M645.6,441.4 V462.2 M633.2,441.4 h24.8 M633.2,462.2 h24.8"/>
<path d="M645.6,440.4 l12.5,21.6 h-25.0 z"/>
<path d="M810.5,462.3 V474.8 M798.1,462.3 h24.8 M798.1,474.8 h24.8"/>
<path d="M810.5,454.4 l12.5,21.6 h-25.0 z"/>
</g>
<g font-size="40">
<text transform="translate(75.8,646.1) scale(1,1.040)" font-size="40" text-anchor="end">0</text>
<text transform="translate(75.8,394.1) scale(1,1.040)" font-size="40" text-anchor="end">2</text>
<text transform="translate(75.8,142.1) scale(1,1.040)" font-size="40" text-anchor="end">4</text>
<text transform="translate(82.2,674.5) scale(1,1.040)" font-size="40" text-anchor="middle">0</text>
<text transform="translate(426.6,674.5) scale(1,1.040)" font-size="40" text-anchor="middle">10</text>
<text transform="translate(771.0,674.5) scale(1,1.040)" font-size="40" text-anchor="middle">20</text>
</g>
<g font-size="40">
<text transform="translate(622.6,64.3) scale(1,1.015)" font-size="40">Cal.</text>
<text class="s" x="748.4" y="63.2" font-size="44.2" font-stretch="condensed" style="stroke-width:.9px">σ</text>
<path d="M625.1,102.1 H688.5" stroke="#0000c8" stroke-width="2.5" fill="none"/>
<text transform="translate(720.6,118.1) scale(1,1.040)" font-size="40">0.60</text>
<path d="M625.1,152.6 H688.5" stroke="#1ee3f0" stroke-width="2.5" fill="none"/>
<text transform="translate(720.6,168.6) scale(1,1.040)" font-size="40">0.45</text>
<path d="M625.1,203.0 H688.5" stroke="#10e810" stroke-width="2.5" fill="none"/>
<text transform="translate(720.6,219.0) scale(1,1.040)" font-size="40">0.30</text>
<path d="M625.1,253.5 H688.5" stroke="#ee8014" stroke-width="2.5" fill="none"/>
<text transform="translate(720.6,269.5) scale(1,1.040)" font-size="40">0.15</text>
<path d="M625.1,303.9 H688.5" stroke="#e2060e" stroke-width="2.5" fill="none"/>
<text transform="translate(720.6,319.9) scale(1,1.040)" font-size="40">0.00</text>
<text transform="translate(104.2,404.1) scale(1,1.030)" font-size="40" letter-spacing="-0.5">Exp.</text>
<text transform="translate(183.3,455.0) scale(1,1.030)" font-size="40">250 ppm</text>
<text transform="translate(183.3,524.0) scale(1,1.030)" font-size="40">500 ppm</text>
<text transform="translate(183.3,591.0) scale(1,1.030)" font-size="40">750 ppm</text>
</g>
<g fill="none" stroke="#000" stroke-width="2.6" stroke-miterlimit="10">
<circle cx="138.0" cy="441.2" r="11.6"/>
<path d="M126.8,505.4 l12.3,-12.3 l12.3,12.3 l-12.3,12.3 z"/>
<path d="M138.9,553.8 l12.5,21.6 h-25.0 z"/>
</g>
<text transform="translate(221.1,64.4) scale(1,1.030)" font-size="45">(A) 250 ppm BPA</text>
<text transform="translate(220.6,719.0) scale(1,1.010)" font-size="44.5">Kerma dose in tumor (Gy)</text>
<g clip-path="url(#cb)" fill="none" stroke-width="2.8" stroke-linejoin="round">
<path stroke="#e2060e" d="M925.0,37.8 925.7,41.6 926.3,45.3 927.0,48.9 927.7,52.4 928.4,55.9 929.1,59.2 929.8,62.5 930.5,65.8 931.2,68.9 931.9,72.0 932.5,75.1 933.2,78.0 933.9,81.0 934.6,83.8 935.3,86.6 936.0,89.4 936.7,92.1 937.4,94.7 938.1,97.3 938.7,99.9 939.4,102.4 940.1,104.9 940.8,107.3 941.5,109.7 942.2,112.1 942.9,114.4 943.6,116.6 944.3,118.9 944.9,121.1 945.6,123.3 946.3,125.4 947.0,127.5 947.7,129.6 948.4,131.6 949.1,133.6 949.8,135.6 950.5,137.6 951.1,139.5 951.8,141.4 952.5,143.3 953.2,145.1 953.9,147.0 954.6,148.8 955.3,150.5 956.0,152.3 956.6,154.0 957.3,155.7 958.0,157.4 958.7,159.1 959.4,160.7 960.1,162.4 960.8,164.0 961.5,165.5 962.2,167.1 962.8,168.7 963.5,170.2 964.2,171.7 964.9,173.2 965.6,174.7 966.3,176.1 967.0,177.6 967.7,179.0 968.4,180.4 969.0,181.8 969.7,183.2 970.4,184.6 971.1,185.9 971.8,187.3 972.5,188.6 973.2,189.9 973.9,191.2 974.6,192.5 975.2,193.8 975.9,195.1 976.6,196.3 977.3,197.5 978.0,198.8 978.7,200.0 979.4,201.2 980.1,202.4 980.8,203.5 981.4,204.7 982.1,205.9 982.8,207.0 983.5,208.2 984.2,209.3 984.9,210.4 985.6,211.5 986.3,212.6 987.0,213.7 987.6,214.8 988.3,215.8 989.0,216.9 989.7,217.9 990.4,219.0 991.1,220.0 991.8,221.0 992.5,222.0 993.2,223.0 993.8,224.0 994.5,225.0 995.2,226.0 995.9,227.0 996.6,227.9 997.3,228.9 998.0,229.8 998.7,230.8 999.4,231.7 1000.0,232.6 1000.7,233.6 1001.4,234.5 1002.1,235.4 1002.8,236.3 1003.5,237.2 1004.2,238.0 1004.9,238.9 1005.6,239.8 1006.2,240.7 1006.9,241.5 1007.6,242.4 1008.3,243.2 1009.0,244.1 1009.7,244.9 1010.4,245.7 1011.1,246.5 1011.8,247.4 1012.4,248.2 1013.1,249.0 1013.8,249.8 1014.5,250.6 1015.2,251.4 1015.9,252.1 1016.6,252.9 1017.3,253.7 1018.0,254.5 1018.6,255.2 1019.3,256.0 1020.0,256.7 1020.7,257.5 1021.4,258.2 1022.1,259.0 1022.8,259.7 1023.5,260.4 1024.2,261.1 1024.8,261.9 1025.5,262.6 1026.2,263.3 1026.9,264.0 1027.6,264.7 1028.3,265.4 1028.6,265.7 1030.6,267.7 1032.7,269.7 1034.8,271.7 1036.8,273.7 1038.9,275.6 1041.0,277.5 1043.0,279.3 1045.1,281.1 1047.2,282.9 1049.2,284.7 1051.3,286.4 1053.4,288.1 1055.4,289.8 1057.5,291.5 1059.6,293.1 1061.6,294.7 1063.7,296.3 1065.8,297.8 1067.8,299.3 1069.9,300.9 1072.0,302.3 1074.0,303.8 1076.1,305.3 1078.2,306.7 1080.2,308.1 1082.3,309.5 1084.4,310.8 1086.4,312.2 1088.5,313.5 1090.6,314.8 1092.6,316.1 1094.7,317.4 1096.8,318.7 1098.8,319.9 1100.9,321.2 1103.0,322.4 1105.0,323.6 1107.1,324.8 1109.1,325.9 1111.2,327.1 1113.3,328.2 1115.3,329.4 1117.4,330.5 1119.5,331.6 1121.5,332.7 1123.6,333.8 1125.7,334.9 1127.7,335.9 1129.8,337.0 1131.9,338.0 1133.9,339.0 1136.0,340.0 1138.1,341.0 1140.1,342.0 1142.2,343.0 1144.3,344.0 1146.3,344.9 1148.4,345.9 1150.5,346.8 1152.5,347.8 1154.6,348.7 1156.7,349.6 1158.7,350.5 1160.8,351.4 1162.9,352.3 1164.9,353.2 1167.0,354.0 1169.1,354.9 1171.1,355.7 1173.2,356.6 1175.3,357.4 1177.3,358.3 1179.4,359.1 1181.5,359.9 1183.5,360.7 1185.6,361.5 1187.7,362.3 1189.7,363.1 1191.8,363.9 1193.9,364.6 1195.9,365.4 1198.0,366.2 1200.1,366.9 1202.1,367.6 1204.2,368.4 1206.3,369.1 1208.3,369.8 1210.4,370.6 1212.5,371.3 1214.5,372.0 1216.6,372.7 1218.7,373.4 1220.7,374.1 1222.8,374.8 1224.9,375.4 1226.9,376.1 1229.0,376.8 1231.1,377.5 1233.1,378.1 1235.2,378.8 1237.3,379.4 1239.3,380.1 1241.4,380.7 1243.5,381.3 1245.5,382.0 1247.6,382.6 1249.7,383.2 1251.7,383.8 1253.8,384.4 1255.9,385.0 1257.9,385.6 1260.0,386.2 1262.1,386.8 1264.1,387.4 1266.2,388.0 1268.3,388.6 1270.3,389.1 1272.4,389.7 1274.5,390.3 1276.5,390.8 1278.6,391.4 1280.7,392.0 1282.7,392.5 1284.8,393.1 1286.9,393.6 1288.9,394.1 1291.0,394.7 1293.1,395.2 1295.1,395.7 1297.2,396.3 1299.3,396.8 1301.3,397.3 1303.4,397.8 1305.5,398.3 1307.5,398.8 1309.6,399.3 1311.7,399.9 1313.7,400.3 1315.8,400.8 1317.9,401.3 1319.9,401.8 1322.0,402.3 1324.1,402.8 1326.1,403.3 1328.2,403.7 1330.3,404.2 1332.3,404.7 1334.4,405.2 1336.5,405.6 1338.5,406.1 1340.6,406.5 1342.7,407.0 1344.7,407.5 1346.8,407.9 1348.9,408.4 1350.9,408.8 1353.0,409.2 1355.1,409.7 1357.1,410.1 1359.2,410.6 1361.3,411.0 1363.3,411.4 1365.4,411.8 1367.4,412.3 1369.5,412.7 1371.6,413.1 1373.6,413.5 1375.7,413.9 1377.8,414.4 1379.8,414.8 1381.9,415.2 1384.0,415.6 1386.0,416.0 1388.1,416.4 1390.2,416.8 1392.2,417.2 1394.3,417.6 1396.4,418.0 1398.4,418.4 1400.5,418.7 1402.6,419.1 1404.6,419.5 1406.7,419.9 1408.8,420.3 1410.8,420.6 1412.9,421.0 1415.0,421.4 1417.0,421.8 1419.1,422.1 1421.2,422.5 1423.2,422.9 1425.3,423.2 1427.4,423.6 1429.4,423.9 1431.5,424.3 1433.6,424.7 1435.6,425.0 1437.7,425.4 1439.8,425.7 1441.8,426.1 1443.9,426.4 1446.0,426.8 1448.0,427.1 1450.1,427.4 1452.2,427.8 1454.2,428.1 1456.3,428.5 1458.4,428.8 1460.4,429.1 1462.5,429.5 1464.6,429.8 1466.6,430.1 1468.7,430.4 1470.8,430.8 1472.8,431.1 1474.9,431.4 1477.0,431.7 1479.0,432.0 1481.1,432.4 1483.2,432.7 1485.2,433.0 1487.3,433.3 1489.4,433.6 1491.4,433.9 1493.5,434.2 1495.6,434.5 1497.6,434.8 1499.7,435.1 1501.8,435.4 1503.8,435.7 1505.9,436.0 1508.0,436.3 1510.0,436.6 1512.1,436.9 1514.2,437.2 1516.2,437.5 1518.3,437.8 1520.4,438.1 1522.4,438.4 1524.5,438.7 1526.6,438.9 1528.6,439.2 1530.7,439.5 1532.8,439.8 1534.8,440.1 1536.9,440.4 1539.0,440.6 1541.0,440.9 1543.1,441.2 1545.2,441.5 1547.2,441.7 1549.3,442.0 1551.4,442.3 1553.4,442.5 1555.5,442.8 1557.6,443.1 1559.6,443.3 1561.7,443.6 1563.8,443.9 1565.8,444.1 1567.9,444.4 1570.0,444.6 1572.0,444.9 1574.1,445.2 1576.2,445.4 1578.2,445.7 1580.3,445.9 1582.4,446.2 1584.4,446.4 1586.5,446.7 1588.6,446.9 1590.6,447.2 1592.7,447.4 1594.8,447.7 1596.8,447.9 1598.9,448.2 1601.0,448.4 1603.0,448.7 1605.1,448.9 1607.2,449.1 1609.2,449.4 1611.3,449.6 1613.4,449.8 1615.4,450.1 1617.5,450.3 1619.6,450.6 1621.6,450.8 1623.7,451.0 1625.7,451.3 1627.8,451.5 1629.9,451.7 1631.9,451.9 1634.0,452.2 1636.1,452.4 1638.1,452.6 1640.2,452.8 1642.3,453.1 1644.3,453.3 1646.4,453.5 1648.5,453.7 1648.5,453.7"/>
<path stroke="#ee8014" d="M925.0,45.5 925.7,49.2 926.3,52.8 927.0,56.3 927.7,59.7 928.4,63.1 929.1,66.4 929.8,69.6 930.5,72.8 931.2,75.8 931.9,78.9 932.5,81.8 933.2,84.7 933.9,87.6 934.6,90.4 935.3,93.1 936.0,95.8 936.7,98.4 937.4,101.0 938.1,103.6 938.7,106.1 939.4,108.5 940.1,110.9 940.8,113.3 941.5,115.6 942.2,117.9 942.9,120.2 943.6,122.4 944.3,124.6 944.9,126.8 945.6,128.9 946.3,131.0 947.0,133.1 947.7,135.1 948.4,137.1 949.1,139.1 949.8,141.0 950.5,142.9 951.1,144.8 951.8,146.7 952.5,148.5 953.2,150.3 953.9,152.1 954.6,153.9 955.3,155.6 956.0,157.3 956.6,159.0 957.3,160.7 958.0,162.4 958.7,164.0 959.4,165.6 960.1,167.2 960.8,168.8 961.5,170.4 962.2,171.9 962.8,173.4 963.5,174.9 964.2,176.4 964.9,177.9 965.6,179.3 966.3,180.8 967.0,182.2 967.7,183.6 968.4,185.0 969.0,186.4 969.7,187.7 970.4,189.1 971.1,190.4 971.8,191.7 972.5,193.0 973.2,194.3 973.9,195.6 974.6,196.9 975.2,198.1 975.9,199.4 976.6,200.6 977.3,201.8 978.0,203.0 978.7,204.2 979.4,205.4 980.1,206.6 980.8,207.7 981.4,208.9 982.1,210.0 982.8,211.1 983.5,212.3 984.2,213.4 984.9,214.5 985.6,215.6 986.3,216.6 987.0,217.7 987.6,218.8 988.3,219.8 989.0,220.9 989.7,221.9 990.4,222.9 991.1,223.9 991.8,224.9 992.5,225.9 993.2,226.9 993.8,227.9 994.5,228.9 995.2,229.9 995.9,230.8 996.6,231.8 997.3,232.7 998.0,233.6 998.7,234.6 999.4,235.5 1000.0,236.4 1000.7,237.3 1001.4,238.2 1002.1,239.1 1002.8,240.0 1003.5,240.9 1004.2,241.8 1004.9,242.6 1005.6,243.5 1006.2,244.3 1006.9,245.2 1007.6,246.0 1008.3,246.9 1009.0,247.7 1009.7,248.5 1010.4,249.3 1011.1,250.2 1011.8,251.0 1012.4,251.8 1013.1,252.6 1013.8,253.4 1014.5,254.1 1015.2,254.9 1015.9,255.7 1016.6,256.5 1017.3,257.2 1018.0,258.0 1018.6,258.7 1019.3,259.5 1020.0,260.2 1020.7,261.0 1021.4,261.7 1022.1,262.4 1022.8,263.2 1023.5,263.9 1024.2,264.6 1024.8,265.3 1025.5,266.0 1026.2,266.7 1026.9,267.4 1027.6,268.1 1028.3,268.8 1028.6,269.1 1030.6,271.1 1032.7,273.1 1034.8,275.1 1036.8,277.0 1038.9,278.9 1041.0,280.8 1043.0,282.6 1045.1,284.4 1047.2,286.2 1049.2,287.9 1051.3,289.6 1053.4,291.3 1055.4,293.0 1057.5,294.6 1059.6,296.3 1061.6,297.8 1063.7,299.4 1065.8,300.9 1067.8,302.5 1069.9,304.0 1072.0,305.4 1074.0,306.9 1076.1,308.3 1078.2,309.8 1080.2,311.1 1082.3,312.5 1084.4,313.9 1086.4,315.2 1088.5,316.6 1090.6,317.9 1092.6,319.1 1094.7,320.4 1096.8,321.7 1098.8,322.9 1100.9,324.1 1103.0,325.4 1105.0,326.6 1107.1,327.7 1109.1,328.9 1111.2,330.1 1113.3,331.2 1115.3,332.3 1117.4,333.4 1119.5,334.5 1121.5,335.6 1123.6,336.7 1125.7,337.8 1127.7,338.8 1129.8,339.9 1131.9,340.9 1133.9,341.9 1136.0,342.9 1138.1,343.9 1140.1,344.9 1142.2,345.9 1144.3,346.9 1146.3,347.8 1148.4,348.8 1150.5,349.7 1152.5,350.6 1154.6,351.6 1156.7,352.5 1158.7,353.4 1160.8,354.3 1162.9,355.2 1164.9,356.0 1167.0,356.9 1169.1,357.8 1171.1,358.6 1173.2,359.5 1175.3,360.3 1177.3,361.1 1179.4,361.9 1181.5,362.8 1183.5,363.6 1185.6,364.4 1187.7,365.1 1189.7,365.9 1191.8,366.7 1193.9,367.5 1195.9,368.2 1198.0,369.0 1200.1,369.8 1202.1,370.5 1204.2,371.2 1206.3,372.0 1208.3,372.7 1210.4,373.4 1212.5,374.1 1214.5,374.8 1216.6,375.5 1218.7,376.2 1220.7,376.9 1222.8,377.6 1224.9,378.3 1226.9,379.0 1229.0,379.6 1231.1,380.3 1233.1,381.0 1235.2,381.6 1237.3,382.3 1239.3,382.9 1241.4,383.5 1243.5,384.2 1245.5,384.8 1247.6,385.4 1249.7,386.0 1251.7,386.7 1253.8,387.3 1255.9,387.9 1257.9,388.5 1260.0,389.1 1262.1,389.7 1264.1,390.3 1266.2,390.8 1268.3,391.4 1270.3,392.0 1272.4,392.6 1274.5,393.1 1276.5,393.7 1278.6,394.3 1280.7,394.8 1282.7,395.4 1284.8,395.9 1286.9,396.5 1288.9,397.0 1291.0,397.5 1293.1,398.1 1295.1,398.6 1297.2,399.1 1299.3,399.7 1301.3,400.2 1303.4,400.7 1305.5,401.2 1307.5,401.7 1309.6,402.2 1311.7,402.7 1313.7,403.2 1315.8,403.7 1317.9,404.2 1319.9,404.7 1322.0,405.2 1324.1,405.7 1326.1,406.1 1328.2,406.6 1330.3,407.1 1332.3,407.6 1334.4,408.0 1336.5,408.5 1338.5,409.0 1340.6,409.4 1342.7,409.9 1344.7,410.3 1346.8,410.8 1348.9,411.2 1350.9,411.7 1353.0,412.1 1355.1,412.6 1357.1,413.0 1359.2,413.4 1361.3,413.9 1363.3,414.3 1365.4,414.7 1367.4,415.2 1369.5,415.6 1371.6,416.0 1373.6,416.4 1375.7,416.8 1377.8,417.3 1379.8,417.7 1381.9,418.1 1384.0,418.5 1386.0,418.9 1388.1,419.3 1390.2,419.7 1392.2,420.1 1394.3,420.5 1396.4,420.9 1398.4,421.3 1400.5,421.7 1402.6,422.0 1404.6,422.4 1406.7,422.8 1408.8,423.2 1410.8,423.6 1412.9,423.9 1415.0,424.3 1417.0,424.7 1419.1,425.1 1421.2,425.4 1423.2,425.8 1425.3,426.2 1427.4,426.5 1429.4,426.9 1431.5,427.2 1433.6,427.6 1435.6,428.0 1437.7,428.3 1439.8,428.7 1441.8,429.0 1443.9,429.4 1446.0,429.7 1448.0,430.1 1450.1,430.4 1452.2,430.7 1454.2,431.1 1456.3,431.4 1458.4,431.7 1460.4,432.1 1462.5,432.4 1464.6,432.7 1466.6,433.1 1468.7,433.4 1470.8,433.7 1472.8,434.0 1474.9,434.4 1477.0,434.7 1479.0,435.0 1481.1,435.3 1483.2,435.6 1485.2,436.0 1487.3,436.3 1489.4,436.6 1491.4,436.9 1493.5,437.2 1495.6,437.5 1497.6,437.8 1499.7,438.1 1501.8,438.4 1503.8,438.7 1505.9,439.0 1508.0,439.3 1510.0,439.6 1512.1,439.9 1514.2,440.2 1516.2,440.5 1518.3,440.8 1520.4,441.1 1522.4,441.4 1524.5,441.7 1526.6,442.0 1528.6,442.2 1530.7,442.5 1532.8,442.8 1534.8,443.1 1536.9,443.4 1539.0,443.6 1541.0,443.9 1543.1,444.2 1545.2,444.5 1547.2,444.7 1549.3,445.0 1551.4,445.3 1553.4,445.6 1555.5,445.8 1557.6,446.1 1559.6,446.4 1561.7,446.6 1563.8,446.9 1565.8,447.2 1567.9,447.4 1570.0,447.7 1572.0,447.9 1574.1,448.2 1576.2,448.5 1578.2,448.7 1580.3,449.0 1582.4,449.2 1584.4,449.5 1586.5,449.7 1588.6,450.0 1590.6,450.2 1592.7,450.5 1594.8,450.7 1596.8,451.0 1598.9,451.2 1601.0,451.5 1603.0,451.7 1605.1,451.9 1607.2,452.2 1609.2,452.4 1611.3,452.7 1613.4,452.9 1615.4,453.1 1617.5,453.4 1619.6,453.6 1621.6,453.9 1623.7,454.1 1625.7,454.3 1627.8,454.5 1629.9,454.8 1631.9,455.0 1634.0,455.2 1636.1,455.5 1638.1,455.7 1640.2,455.9 1642.3,456.1 1644.3,456.4 1646.4,456.6 1648.5,456.8 1648.5,456.8"/>
<path stroke="#10e810" d="M925.0,53.4 925.7,57.0 926.3,60.5 927.0,64.0 927.7,67.3 928.4,70.6 929.1,73.8 929.8,77.0 930.5,80.0 931.2,83.1 931.9,86.0 932.5,88.9 933.2,91.7 933.9,94.5 934.6,97.3 935.3,99.9 936.0,102.6 936.7,105.1 937.4,107.7 938.1,110.2 938.7,112.6 939.4,115.0 940.1,117.4 940.8,119.7 941.5,122.0 942.2,124.3 942.9,126.5 943.6,128.7 944.3,130.8 944.9,132.9 945.6,135.0 946.3,137.0 947.0,139.1 947.7,141.1 948.4,143.0 949.1,144.9 949.8,146.9 950.5,148.7 951.1,150.6 951.8,152.4 952.5,154.2 953.2,156.0 953.9,157.8 954.6,159.5 955.3,161.2 956.0,162.9 956.6,164.6 957.3,166.2 958.0,167.8 958.7,169.4 959.4,171.0 960.1,172.6 960.8,174.1 961.5,175.7 962.2,177.2 962.8,178.7 963.5,180.2 964.2,181.6 964.9,183.1 965.6,184.5 966.3,185.9 967.0,187.3 967.7,188.7 968.4,190.0 969.0,191.4 969.7,192.7 970.4,194.1 971.1,195.4 971.8,196.7 972.5,198.0 973.2,199.2 973.9,200.5 974.6,201.7 975.2,203.0 975.9,204.2 976.6,205.4 977.3,206.6 978.0,207.8 978.7,209.0 979.4,210.1 980.1,211.3 980.8,212.4 981.4,213.6 982.1,214.7 982.8,215.8 983.5,216.9 984.2,218.0 984.9,219.1 985.6,220.1 986.3,221.2 987.0,222.3 987.6,223.3 988.3,224.3 989.0,225.4 989.7,226.4 990.4,227.4 991.1,228.4 991.8,229.4 992.5,230.4 993.2,231.4 993.8,232.3 994.5,233.3 995.2,234.2 995.9,235.2 996.6,236.1 997.3,237.1 998.0,238.0 998.7,238.9 999.4,239.8 1000.0,240.7 1000.7,241.6 1001.4,242.5 1002.1,243.4 1002.8,244.3 1003.5,245.1 1004.2,246.0 1004.9,246.8 1005.6,247.7 1006.2,248.5 1006.9,249.4 1007.6,250.2 1008.3,251.0 1009.0,251.9 1009.7,252.7 1010.4,253.5 1011.1,254.3 1011.8,255.1 1012.4,255.9 1013.1,256.7 1013.8,257.4 1014.5,258.2 1015.2,259.0 1015.9,259.8 1016.6,260.5 1017.3,261.3 1018.0,262.0 1018.6,262.8 1019.3,263.5 1020.0,264.2 1020.7,265.0 1021.4,265.7 1022.1,266.4 1022.8,267.1 1023.5,267.9 1024.2,268.6 1024.8,269.3 1025.5,270.0 1026.2,270.7 1026.9,271.4 1027.6,272.0 1028.3,272.7 1028.6,273.0 1030.6,275.0 1032.7,277.0 1034.8,278.9 1036.8,280.9 1038.9,282.7 1041.0,284.6 1043.0,286.4 1045.1,288.2 1047.2,290.0 1049.2,291.7 1051.3,293.4 1053.4,295.1 1055.4,296.7 1057.5,298.4 1059.6,300.0 1061.6,301.5 1063.7,303.1 1065.8,304.6 1067.8,306.1 1069.9,307.6 1072.0,309.1 1074.0,310.6 1076.1,312.0 1078.2,313.4 1080.2,314.8 1082.3,316.2 1084.4,317.5 1086.4,318.8 1088.5,320.2 1090.6,321.5 1092.6,322.8 1094.7,324.0 1096.8,325.3 1098.8,326.5 1100.9,327.7 1103.0,329.0 1105.0,330.2 1107.1,331.3 1109.1,332.5 1111.2,333.7 1113.3,334.8 1115.3,335.9 1117.4,337.0 1119.5,338.1 1121.5,339.2 1123.6,340.3 1125.7,341.4 1127.7,342.4 1129.8,343.5 1131.9,344.5 1133.9,345.5 1136.0,346.5 1138.1,347.5 1140.1,348.5 1142.2,349.5 1144.3,350.5 1146.3,351.5 1148.4,352.4 1150.5,353.3 1152.5,354.3 1154.6,355.2 1156.7,356.1 1158.7,357.0 1160.8,357.9 1162.9,358.8 1164.9,359.7 1167.0,360.6 1169.1,361.4 1171.1,362.3 1173.2,363.1 1175.3,364.0 1177.3,364.8 1179.4,365.6 1181.5,366.5 1183.5,367.3 1185.6,368.1 1187.7,368.9 1189.7,369.7 1191.8,370.4 1193.9,371.2 1195.9,372.0 1198.0,372.8 1200.1,373.5 1202.1,374.3 1204.2,375.0 1206.3,375.8 1208.3,376.5 1210.4,377.2 1212.5,377.9 1214.5,378.6 1216.6,379.4 1218.7,380.1 1220.7,380.8 1222.8,381.5 1224.9,382.1 1226.9,382.8 1229.0,383.5 1231.1,384.2 1233.1,384.8 1235.2,385.5 1237.3,386.2 1239.3,386.8 1241.4,387.5 1243.5,388.1 1245.5,388.7 1247.6,389.4 1249.7,390.0 1251.7,390.6 1253.8,391.3 1255.9,391.9 1257.9,392.5 1260.0,393.1 1262.1,393.7 1264.1,394.3 1266.2,394.9 1268.3,395.5 1270.3,396.1 1272.4,396.6 1274.5,397.2 1276.5,397.8 1278.6,398.4 1280.7,398.9 1282.7,399.5 1284.8,400.0 1286.9,400.6 1288.9,401.2 1291.0,401.7 1293.1,402.2 1295.1,402.8 1297.2,403.3 1299.3,403.9 1301.3,404.4 1303.4,404.9 1305.5,405.4 1307.5,406.0 1309.6,406.5 1311.7,407.0 1313.7,407.5 1315.8,408.0 1317.9,408.5 1319.9,409.0 1322.0,409.5 1324.1,410.0 1326.1,410.5 1328.2,411.0 1330.3,411.5 1332.3,412.0 1334.4,412.4 1336.5,412.9 1338.5,413.4 1340.6,413.9 1342.7,414.3 1344.7,414.8 1346.8,415.3 1348.9,415.7 1350.9,416.2 1353.0,416.6 1355.1,417.1 1357.1,417.5 1359.2,418.0 1361.3,418.4 1363.3,418.9 1365.4,419.3 1367.4,419.8 1369.5,420.2 1371.6,420.6 1373.6,421.1 1375.7,421.5 1377.8,421.9 1379.8,422.3 1381.9,422.8 1384.0,423.2 1386.0,423.6 1388.1,424.0 1390.2,424.4 1392.2,424.8 1394.3,425.2 1396.4,425.7 1398.4,426.1 1400.5,426.5 1402.6,426.9 1404.6,427.3 1406.7,427.7 1408.8,428.0 1410.8,428.4 1412.9,428.8 1415.0,429.2 1417.0,429.6 1419.1,430.0 1421.2,430.4 1423.2,430.7 1425.3,431.1 1427.4,431.5 1429.4,431.9 1431.5,432.2 1433.6,432.6 1435.6,433.0 1437.7,433.4 1439.8,433.7 1441.8,434.1 1443.9,434.4 1446.0,434.8 1448.0,435.2 1450.1,435.5 1452.2,435.9 1454.2,436.2 1456.3,436.6 1458.4,436.9 1460.4,437.3 1462.5,437.6 1464.6,438.0 1466.6,438.3 1468.7,438.7 1470.8,439.0 1472.8,439.3 1474.9,439.7 1477.0,440.0 1479.0,440.3 1481.1,440.7 1483.2,441.0 1485.2,441.3 1487.3,441.7 1489.4,442.0 1491.4,442.3 1493.5,442.6 1495.6,442.9 1497.6,443.3 1499.7,443.6 1501.8,443.9 1503.8,444.2 1505.9,444.5 1508.0,444.8 1510.0,445.2 1512.1,445.5 1514.2,445.8 1516.2,446.1 1518.3,446.4 1520.4,446.7 1522.4,447.0 1524.5,447.3 1526.6,447.6 1528.6,447.9 1530.7,448.2 1532.8,448.5 1534.8,448.8 1536.9,449.1 1539.0,449.4 1541.0,449.7 1543.1,450.0 1545.2,450.3 1547.2,450.5 1549.3,450.8 1551.4,451.1 1553.4,451.4 1555.5,451.7 1557.6,452.0 1559.6,452.3 1561.7,452.5 1563.8,452.8 1565.8,453.1 1567.9,453.4 1570.0,453.6 1572.0,453.9 1574.1,454.2 1576.2,454.5 1578.2,454.7 1580.3,455.0 1582.4,455.3 1584.4,455.5 1586.5,455.8 1588.6,456.1 1590.6,456.3 1592.7,456.6 1594.8,456.9 1596.8,457.1 1598.9,457.4 1601.0,457.7 1603.0,457.9 1605.1,458.2 1607.2,458.4 1609.2,458.7 1611.3,458.9 1613.4,459.2 1615.4,459.4 1617.5,459.7 1619.6,459.9 1621.6,460.2 1623.7,460.4 1625.7,460.7 1627.8,460.9 1629.9,461.2 1631.9,461.4 1634.0,461.7 1636.1,461.9 1638.1,462.2 1640.2,462.4 1642.3,462.6 1644.3,462.9 1646.4,463.1 1648.5,463.4 1648.5,463.4"/>
<path stroke="#1ee3f0" d="M925.0,39.4 925.7,43.3 926.3,47.2 927.0,51.0 927.7,54.7 928.4,58.3 929.1,61.8 929.8,65.2 930.5,68.6 931.2,71.9 931.9,75.1 932.5,78.3 933.2,81.4 933.9,84.4 934.6,87.4 935.3,90.3 936.0,93.1 936.7,95.9 937.4,98.7 938.1,101.4 938.7,104.0 939.4,106.7 940.1,109.2 940.8,111.7 941.5,114.2 942.2,116.6 942.9,119.0 943.6,121.4 944.3,123.7 944.9,126.0 945.6,128.2 946.3,130.4 947.0,132.6 947.7,134.7 948.4,136.9 949.1,138.9 949.8,141.0 950.5,143.0 951.1,145.0 951.8,146.9 952.5,148.9 953.2,150.8 953.9,152.7 954.6,154.5 955.3,156.3 956.0,158.2 956.6,159.9 957.3,161.7 958.0,163.4 958.7,165.1 959.4,166.8 960.1,168.5 960.8,170.2 961.5,171.8 962.2,173.4 962.8,175.0 963.5,176.6 964.2,178.1 964.9,179.7 965.6,181.2 966.3,182.7 967.0,184.2 967.7,185.6 968.4,187.1 969.0,188.5 969.7,189.9 970.4,191.3 971.1,192.7 971.8,194.1 972.5,195.5 973.2,196.8 973.9,198.1 974.6,199.5 975.2,200.8 975.9,202.1 976.6,203.3 977.3,204.6 978.0,205.9 978.7,207.1 979.4,208.3 980.1,209.5 980.8,210.7 981.4,211.9 982.1,213.1 982.8,214.3 983.5,215.5 984.2,216.6 984.9,217.7 985.6,218.9 986.3,220.0 987.0,221.1 987.6,222.2 988.3,223.3 989.0,224.4 989.7,225.4 990.4,226.5 991.1,227.5 991.8,228.6 992.5,229.6 993.2,230.7 993.8,231.7 994.5,232.7 995.2,233.7 995.9,234.7 996.6,235.7 997.3,236.6 998.0,237.6 998.7,238.6 999.4,239.5 1000.0,240.5 1000.7,241.4 1001.4,242.3 1002.1,243.2 1002.8,244.2 1003.5,245.1 1004.2,246.0 1004.9,246.9 1005.6,247.8 1006.2,248.6 1006.9,249.5 1007.6,250.4 1008.3,251.2 1009.0,252.1 1009.7,252.9 1010.4,253.8 1011.1,254.6 1011.8,255.5 1012.4,256.3 1013.1,257.1 1013.8,257.9 1014.5,258.7 1015.2,259.5 1015.9,260.3 1016.6,261.1 1017.3,261.9 1018.0,262.7 1018.6,263.5 1019.3,264.2 1020.0,265.0 1020.7,265.8 1021.4,266.5 1022.1,267.3 1022.8,268.0 1023.5,268.7 1024.2,269.5 1024.8,270.2 1025.5,270.9 1026.2,271.7 1026.9,272.4 1027.6,273.1 1028.3,273.8 1028.6,274.1 1030.6,276.2 1032.7,278.2 1034.8,280.2 1036.8,282.2 1038.9,284.2 1041.0,286.1 1043.0,288.0 1045.1,289.8 1047.2,291.6 1049.2,293.4 1051.3,295.2 1053.4,296.9 1055.4,298.6 1057.5,300.3 1059.6,302.0 1061.6,303.6 1063.7,305.2 1065.8,306.8 1067.8,308.3 1069.9,309.8 1072.0,311.4 1074.0,312.8 1076.1,314.3 1078.2,315.8 1080.2,317.2 1082.3,318.6 1084.4,320.0 1086.4,321.4 1088.5,322.7 1090.6,324.0 1092.6,325.4 1094.7,326.7 1096.8,328.0 1098.8,329.2 1100.9,330.5 1103.0,331.7 1105.0,332.9 1107.1,334.1 1109.1,335.3 1111.2,336.5 1113.3,337.7 1115.3,338.8 1117.4,340.0 1119.5,341.1 1121.5,342.2 1123.6,343.3 1125.7,344.4 1127.7,345.5 1129.8,346.5 1131.9,347.6 1133.9,348.6 1136.0,349.7 1138.1,350.7 1140.1,351.7 1142.2,352.7 1144.3,353.7 1146.3,354.7 1148.4,355.6 1150.5,356.6 1152.5,357.5 1154.6,358.5 1156.7,359.4 1158.7,360.3 1160.8,361.3 1162.9,362.2 1164.9,363.1 1167.0,363.9 1169.1,364.8 1171.1,365.7 1173.2,366.6 1175.3,367.4 1177.3,368.3 1179.4,369.1 1181.5,369.9 1183.5,370.8 1185.6,371.6 1187.7,372.4 1189.7,373.2 1191.8,374.0 1193.9,374.8 1195.9,375.6 1198.0,376.3 1200.1,377.1 1202.1,377.9 1204.2,378.6 1206.3,379.4 1208.3,380.1 1210.4,380.9 1212.5,381.6 1214.5,382.3 1216.6,383.0 1218.7,383.7 1220.7,384.5 1222.8,385.2 1224.9,385.9 1226.9,386.5 1229.0,387.2 1231.1,387.9 1233.1,388.6 1235.2,389.3 1237.3,389.9 1239.3,390.6 1241.4,391.3 1243.5,391.9 1245.5,392.5 1247.6,393.2 1249.7,393.8 1251.7,394.5 1253.8,395.1 1255.9,395.7 1257.9,396.3 1260.0,396.9 1262.1,397.6 1264.1,398.2 1266.2,398.8 1268.3,399.4 1270.3,400.0 1272.4,400.5 1274.5,401.1 1276.5,401.7 1278.6,402.3 1280.7,402.9 1282.7,403.4 1284.8,404.0 1286.9,404.6 1288.9,405.1 1291.0,405.7 1293.1,406.2 1295.1,406.8 1297.2,407.3 1299.3,407.9 1301.3,408.4 1303.4,408.9 1305.5,409.5 1307.5,410.0 1309.6,410.5 1311.7,411.0 1313.7,411.6 1315.8,412.1 1317.9,412.6 1319.9,413.1 1322.0,413.6 1324.1,414.1 1326.1,414.6 1328.2,415.1 1330.3,415.6 1332.3,416.1 1334.4,416.6 1336.5,417.1 1338.5,417.5 1340.6,418.0 1342.7,418.5 1344.7,419.0 1346.8,419.4 1348.9,419.9 1350.9,420.4 1353.0,420.8 1355.1,421.3 1357.1,421.7 1359.2,422.2 1361.3,422.7 1363.3,423.1 1365.4,423.5 1367.4,424.0 1369.5,424.4 1371.6,424.9 1373.6,425.3 1375.7,425.7 1377.8,426.2 1379.8,426.6 1381.9,427.0 1384.0,427.5 1386.0,427.9 1388.1,428.3 1390.2,428.7 1392.2,429.1 1394.3,429.6 1396.4,430.0 1398.4,430.4 1400.5,430.8 1402.6,431.2 1404.6,431.6 1406.7,432.0 1408.8,432.4 1410.8,432.8 1412.9,433.2 1415.0,433.6 1417.0,434.0 1419.1,434.4 1421.2,434.8 1423.2,435.2 1425.3,435.5 1427.4,435.9 1429.4,436.3 1431.5,436.7 1433.6,437.1 1435.6,437.4 1437.7,437.8 1439.8,438.2 1441.8,438.5 1443.9,438.9 1446.0,439.3 1448.0,439.6 1450.1,440.0 1452.2,440.4 1454.2,440.7 1456.3,441.1 1458.4,441.4 1460.4,441.8 1462.5,442.1 1464.6,442.5 1466.6,442.8 1468.7,443.2 1470.8,443.5 1472.8,443.9 1474.9,444.2 1477.0,444.6 1479.0,444.9 1481.1,445.2 1483.2,445.6 1485.2,445.9 1487.3,446.3 1489.4,446.6 1491.4,446.9 1493.5,447.3 1495.6,447.6 1497.6,447.9 1499.7,448.2 1501.8,448.6 1503.8,448.9 1505.9,449.2 1508.0,449.5 1510.0,449.8 1512.1,450.2 1514.2,450.5 1516.2,450.8 1518.3,451.1 1520.4,451.4 1522.4,451.7 1524.5,452.0 1526.6,452.3 1528.6,452.6 1530.7,452.9 1532.8,453.3 1534.8,453.6 1536.9,453.9 1539.0,454.2 1541.0,454.5 1543.1,454.8 1545.2,455.1 1547.2,455.3 1549.3,455.6 1551.4,455.9 1553.4,456.2 1555.5,456.5 1557.6,456.8 1559.6,457.1 1561.7,457.4 1563.8,457.7 1565.8,458.0 1567.9,458.2 1570.0,458.5 1572.0,458.8 1574.1,459.1 1576.2,459.4 1578.2,459.6 1580.3,459.9 1582.4,460.2 1584.4,460.5 1586.5,460.7 1588.6,461.0 1590.6,461.3 1592.7,461.6 1594.8,461.8 1596.8,462.1 1598.9,462.4 1601.0,462.6 1603.0,462.9 1605.1,463.2 1607.2,463.4 1609.2,463.7 1611.3,464.0 1613.4,464.2 1615.4,464.5 1617.5,464.7 1619.6,465.0 1621.6,465.3 1623.7,465.5 1625.7,465.8 1627.8,466.0 1629.9,466.3 1631.9,466.5 1634.0,466.8 1636.1,467.0 1638.1,467.3 1640.2,467.5 1642.3,467.8 1644.3,468.0 1646.4,468.3 1648.5,468.5 1648.5,468.5"/>
<path stroke="#0000c8" d="M925.0,-5 L925.0,6.5 925.7,11.1 926.3,15.7 927.0,20.1 927.7,24.4 928.4,28.5 929.1,32.6 929.8,36.6 930.5,40.5 931.2,44.4 931.9,48.1 932.5,51.8 933.2,55.3 933.9,58.8 934.6,62.3 935.3,65.6 936.0,68.9 936.7,72.1 937.4,75.3 938.1,78.4 938.7,81.5 939.4,84.5 940.1,87.4 940.8,90.3 941.5,93.1 942.2,95.9 942.9,98.6 943.6,101.3 944.3,104.0 944.9,106.6 945.6,109.1 946.3,111.6 947.0,114.1 947.7,116.5 948.4,118.9 949.1,121.3 949.8,123.6 950.5,125.9 951.1,128.1 951.8,130.4 952.5,132.6 953.2,134.7 953.9,136.8 954.6,138.9 955.3,141.0 956.0,143.0 956.6,145.0 957.3,147.0 958.0,149.0 958.7,150.9 959.4,152.8 960.1,154.7 960.8,156.5 961.5,158.4 962.2,160.2 962.8,162.0 963.5,163.7 964.2,165.5 964.9,167.2 965.6,168.9 966.3,170.6 967.0,172.2 967.7,173.9 968.4,175.5 969.0,177.1 969.7,178.7 970.4,180.3 971.1,181.8 971.8,183.3 972.5,184.8 973.2,186.3 973.9,187.8 974.6,189.3 975.2,190.7 975.9,192.2 976.6,193.6 977.3,195.0 978.0,196.4 978.7,197.8 979.4,199.1 980.1,200.5 980.8,201.8 981.4,203.1 982.1,204.4 982.8,205.7 983.5,207.0 984.2,208.3 984.9,209.6 985.6,210.8 986.3,212.0 987.0,213.3 987.6,214.5 988.3,215.7 989.0,216.9 989.7,218.0 990.4,219.2 991.1,220.4 991.8,221.5 992.5,222.6 993.2,223.8 993.8,224.9 994.5,226.0 995.2,227.1 995.9,228.2 996.6,229.3 997.3,230.3 998.0,231.4 998.7,232.4 999.4,233.5 1000.0,234.5 1000.7,235.6 1001.4,236.6 1002.1,237.6 1002.8,238.6 1003.5,239.6 1004.2,240.6 1004.9,241.5 1005.6,242.5 1006.2,243.5 1006.9,244.4 1007.6,245.4 1008.3,246.3 1009.0,247.2 1009.7,248.2 1010.4,249.1 1011.1,250.0 1011.8,250.9 1012.4,251.8 1013.1,252.7 1013.8,253.6 1014.5,254.5 1015.2,255.3 1015.9,256.2 1016.6,257.1 1017.3,257.9 1018.0,258.8 1018.6,259.6 1019.3,260.4 1020.0,261.3 1020.7,262.1 1021.4,262.9 1022.1,263.7 1022.8,264.5 1023.5,265.3 1024.2,266.1 1024.8,266.9 1025.5,267.7 1026.2,268.5 1026.9,269.3 1027.6,270.0 1028.3,270.8 1028.6,271.1 1030.6,273.4 1032.7,275.6 1034.8,277.8 1036.8,279.9 1038.9,282.0 1041.0,284.1 1043.0,286.1 1045.1,288.1 1047.2,290.0 1049.2,291.9 1051.3,293.8 1053.4,295.7 1055.4,297.5 1057.5,299.3 1059.6,301.1 1061.6,302.8 1063.7,304.5 1065.8,306.2 1067.8,307.8 1069.9,309.5 1072.0,311.1 1074.0,312.7 1076.1,314.2 1078.2,315.8 1080.2,317.3 1082.3,318.8 1084.4,320.2 1086.4,321.7 1088.5,323.1 1090.6,324.5 1092.6,325.9 1094.7,327.3 1096.8,328.7 1098.8,330.0 1100.9,331.3 1103.0,332.6 1105.0,333.9 1107.1,335.2 1109.1,336.4 1111.2,337.7 1113.3,338.9 1115.3,340.1 1117.4,341.3 1119.5,342.5 1121.5,343.7 1123.6,344.8 1125.7,346.0 1127.7,347.1 1129.8,348.2 1131.9,349.3 1133.9,350.4 1136.0,351.5 1138.1,352.5 1140.1,353.6 1142.2,354.6 1144.3,355.7 1146.3,356.7 1148.4,357.7 1150.5,358.7 1152.5,359.7 1154.6,360.7 1156.7,361.6 1158.7,362.6 1160.8,363.5 1162.9,364.5 1164.9,365.4 1167.0,366.3 1169.1,367.3 1171.1,368.2 1173.2,369.0 1175.3,369.9 1177.3,370.8 1179.4,371.7 1181.5,372.5 1183.5,373.4 1185.6,374.2 1187.7,375.1 1189.7,375.9 1191.8,376.7 1193.9,377.5 1195.9,378.3 1198.0,379.1 1200.1,379.9 1202.1,380.7 1204.2,381.5 1206.3,382.3 1208.3,383.0 1210.4,383.8 1212.5,384.6 1214.5,385.3 1216.6,386.0 1218.7,386.8 1220.7,387.5 1222.8,388.2 1224.9,388.9 1226.9,389.7 1229.0,390.4 1231.1,391.1 1233.1,391.8 1235.2,392.4 1237.3,393.1 1239.3,393.8 1241.4,394.5 1243.5,395.1 1245.5,395.8 1247.6,396.5 1249.7,397.1 1251.7,397.8 1253.8,398.4 1255.9,399.0 1257.9,399.7 1260.0,400.3 1262.1,400.9 1264.1,401.5 1266.2,402.1 1268.3,402.8 1270.3,403.4 1272.4,404.0 1274.5,404.6 1276.5,405.1 1278.6,405.7 1280.7,406.3 1282.7,406.9 1284.8,407.5 1286.9,408.0 1288.9,408.6 1291.0,409.2 1293.1,409.7 1295.1,410.3 1297.2,410.8 1299.3,411.4 1301.3,411.9 1303.4,412.5 1305.5,413.0 1307.5,413.5 1309.6,414.1 1311.7,414.6 1313.7,415.1 1315.8,415.6 1317.9,416.2 1319.9,416.7 1322.0,417.2 1324.1,417.7 1326.1,418.2 1328.2,418.7 1330.3,419.2 1332.3,419.7 1334.4,420.2 1336.5,420.7 1338.5,421.1 1340.6,421.6 1342.7,422.1 1344.7,422.6 1346.8,423.1 1348.9,423.5 1350.9,424.0 1353.0,424.5 1355.1,424.9 1357.1,425.4 1359.2,425.8 1361.3,426.3 1363.3,426.7 1365.4,427.2 1367.4,427.6 1369.5,428.1 1371.6,428.5 1373.6,429.0 1375.7,429.4 1377.8,429.8 1379.8,430.3 1381.9,430.7 1384.0,431.1 1386.0,431.5 1388.1,432.0 1390.2,432.4 1392.2,432.8 1394.3,433.2 1396.4,433.6 1398.4,434.0 1400.5,434.5 1402.6,434.9 1404.6,435.3 1406.7,435.7 1408.8,436.1 1410.8,436.5 1412.9,436.9 1415.0,437.2 1417.0,437.6 1419.1,438.0 1421.2,438.4 1423.2,438.8 1425.3,439.2 1427.4,439.6 1429.4,439.9 1431.5,440.3 1433.6,440.7 1435.6,441.1 1437.7,441.4 1439.8,441.8 1441.8,442.2 1443.9,442.5 1446.0,442.9 1448.0,443.3 1450.1,443.6 1452.2,444.0 1454.2,444.3 1456.3,444.7 1458.4,445.0 1460.4,445.4 1462.5,445.7 1464.6,446.1 1466.6,446.4 1468.7,446.8 1470.8,447.1 1472.8,447.5 1474.9,447.8 1477.0,448.1 1479.0,448.5 1481.1,448.8 1483.2,449.2 1485.2,449.5 1487.3,449.8 1489.4,450.1 1491.4,450.5 1493.5,450.8 1495.6,451.1 1497.6,451.4 1499.7,451.8 1501.8,452.1 1503.8,452.4 1505.9,452.7 1508.0,453.0 1510.0,453.4 1512.1,453.7 1514.2,454.0 1516.2,454.3 1518.3,454.6 1520.4,454.9 1522.4,455.2 1524.5,455.5 1526.6,455.8 1528.6,456.1 1530.7,456.4 1532.8,456.7 1534.8,457.0 1536.9,457.3 1539.0,457.6 1541.0,457.9 1543.1,458.2 1545.2,458.5 1547.2,458.8 1549.3,459.1 1551.4,459.4 1553.4,459.6 1555.5,459.9 1557.6,460.2 1559.6,460.5 1561.7,460.8 1563.8,461.1 1565.8,461.3 1567.9,461.6 1570.0,461.9 1572.0,462.2 1574.1,462.4 1576.2,462.7 1578.2,463.0 1580.3,463.3 1582.4,463.5 1584.4,463.8 1586.5,464.1 1588.6,464.3 1590.6,464.6 1592.7,464.9 1594.8,465.1 1596.8,465.4 1598.9,465.7 1601.0,465.9 1603.0,466.2 1605.1,466.4 1607.2,466.7 1609.2,466.9 1611.3,467.2 1613.4,467.5 1615.4,467.7 1617.5,468.0 1619.6,468.2 1621.6,468.5 1623.7,468.7 1625.7,469.0 1627.8,469.2 1629.9,469.5 1631.9,469.7 1634.0,470.0 1636.1,470.2 1638.1,470.4 1640.2,470.7 1642.3,470.9 1644.3,471.2 1646.4,471.4 1648.5,471.6 1648.5,471.6"/>
</g>
<g fill="none" stroke="#000" stroke-width="2.9"><rect x="890.8" y="1.3" width="757.7" height="630.0"/><path d="M925.2,631.3 v-13.0 M959.7,631.3 v-13.0 M959.7,1.3 v13.0 M994.1,631.3 v-13.0 M994.1,1.3 v13.0 M1028.6,631.3 v-13.0 M1028.6,1.3 v13.0 M1063.0,631.3 v-13.0 M1063.0,1.3 v13.0 M1097.4,631.3 v-13.0 M1097.4,1.3 v13.0 M1131.9,631.3 v-13.0 M1131.9,1.3 v13.0 M1166.3,631.3 v-13.0 M1166.3,1.3 v13.0 M1200.8,631.3 v-13.0 M1200.8,1.3 v13.0 M1235.2,631.3 v-19.0 M1235.2,1.3 v19.0 M1269.6,631.3 v-13.0 M1269.6,1.3 v13.0 M1304.1,631.3 v-13.0 M1304.1,1.3 v13.0 M1338.5,631.3 v-13.0 M1338.5,1.3 v13.0 M1373.0,631.3 v-13.0 M1373.0,1.3 v13.0 M1407.4,631.3 v-13.0 M1407.4,1.3 v13.0 M1441.8,631.3 v-13.0 M1441.8,1.3 v13.0 M1476.3,631.3 v-13.0 M1476.3,1.3 v13.0 M1510.7,631.3 v-13.0 M1510.7,1.3 v13.0 M1545.2,631.3 v-13.0 M1545.2,1.3 v13.0 M1579.6,631.3 v-19.0 M1579.6,1.3 v19.0 M1614.0,631.3 v-13.0 M1614.0,1.3 v13.0 M890.8,568.3 h6.4 M1648.5,568.3 h-6.4 M890.8,505.3 h12.3 M1648.5,505.3 h-12.3 M890.8,442.3 h6.4 M1648.5,442.3 h-6.4 M890.8,379.3 h12.3 M1648.5,379.3 h-12.3 M890.8,316.3 h6.4 M1648.5,316.3 h-6.4 M890.8,253.3 h12.3 M1648.5,253.3 h-12.3 M890.8,190.3 h6.4 M1648.5,190.3 h-6.4 M890.8,127.3 h12.3 M1648.5,127.3 h-12.3 M890.8,64.3 h6.4 M1648.5,64.3 h-6.4"/></g>
<g fill="none" stroke="#000" stroke-width="2.6" stroke-miterlimit="10">
<path d="M1109.0,307.4 V336.5 M1096.6,307.4 h24.8 M1096.6,336.5 h24.8"/>
<circle cx="1109.0" cy="322.2" r="11.6"/>
<path d="M1214.2,357.8 V375.2 M1201.8,357.8 h24.8 M1201.8,375.2 h24.8"/>
<circle cx="1214.2" cy="366.4" r="11.6"/>
<path d="M1299.2,378.5 V392.0 M1286.8,378.5 h24.8 M1286.8,392.0 h24.8"/>
<circle cx="1299.2" cy="385.3" r="11.6"/>
<path d="M1180.0,356.4 V384.2 M1167.6,356.4 h24.8 M1167.6,384.2 h24.8"/>
<path d="M1167.7,371.7 l12.3,-12.3 l12.3,12.3 l-12.3,12.3 z"/>
<path d="M1297.1,382.7 V407.6 M1284.7,382.7 h24.8 M1284.7,407.6 h24.8"/>
<path d="M1284.8,397.2 l12.3,-12.3 l12.3,12.3 l-12.3,12.3 z"/>
<path d="M1417.4,413.1 V427.1 M1405.0,413.1 h24.8 M1405.0,427.1 h24.8"/>
<path d="M1405.1,421.3 l12.3,-12.3 l12.3,12.3 l-12.3,12.3 z"/>
<path d="M1234.0,388.6 V406.8 M1221.6,388.6 h24.8 M1221.6,406.8 h24.8"/>
<path d="M1234.0,385.6 l12.5,21.6 h-25.0 z"/>
<path d="M1383.9,420.5 V429.4 M1371.5,420.5 h24.8 M1371.5,429.4 h24.8"/>
<path d="M1383.9,410.6 l12.5,21.6 h-25.0 z"/>
<path d="M1533.1,443.0 V450.0 M1520.7,443.0 h24.8 M1520.7,450.0 h24.8"/>
<path d="M1533.1,431.5 l12.5,21.6 h-25.0 z"/>
</g>
<g font-size="40">
<text transform="translate(884.3,646.1) scale(1,1.040)" font-size="40" text-anchor="end">0</text>
<text transform="translate(884.3,394.1) scale(1,1.040)" font-size="40" text-anchor="end">2</text>
<text transform="translate(884.3,142.1) scale(1,1.040)" font-size="40" text-anchor="end">4</text>
<text transform="translate(890.7,674.5) scale(1,1.040)" font-size="40" text-anchor="middle">0</text>
<text transform="translate(1235.1,674.5) scale(1,1.040)" font-size="40" text-anchor="middle">10</text>
<text transform="translate(1579.5,674.5) scale(1,1.040)" font-size="40" text-anchor="middle">20</text>
</g>
<g font-size="40">
<text transform="translate(1431.1,64.3) scale(1,1.015)" font-size="40">Cal.</text>
<text class="s" x="1556.9" y="63.2" font-size="44.2" font-stretch="condensed" style="stroke-width:.9px">σ</text>
<path d="M1433.6,102.1 H1497.0" stroke="#0000c8" stroke-width="2.5" fill="none"/>
<text transform="translate(1529.1,118.1) scale(1,1.040)" font-size="40">0.60</text>
<path d="M1433.6,152.6 H1497.0" stroke="#1ee3f0" stroke-width="2.5" fill="none"/>
<text transform="translate(1529.1,168.6) scale(1,1.040)" font-size="40">0.45</text>
<path d="M1433.6,203.0 H1497.0" stroke="#10e810" stroke-width="2.5" fill="none"/>
<text transform="translate(1529.1,219.0) scale(1,1.040)" font-size="40">0.30</text>
<path d="M1433.6,253.5 H1497.0" stroke="#ee8014" stroke-width="2.5" fill="none"/>
<text transform="translate(1529.1,269.5) scale(1,1.040)" font-size="40">0.15</text>
<path d="M1433.6,303.9 H1497.0" stroke="#e2060e" stroke-width="2.5" fill="none"/>
<text transform="translate(1529.1,319.9) scale(1,1.040)" font-size="40">0.00</text>
<text transform="translate(912.7,404.1) scale(1,1.030)" font-size="40" letter-spacing="-0.5">Exp.</text>
<text transform="translate(991.8,455.0) scale(1,1.030)" font-size="40">125 ppm</text>
<text transform="translate(991.8,524.0) scale(1,1.030)" font-size="40">250 ppm</text>
<text transform="translate(991.8,591.0) scale(1,1.030)" font-size="40">375 ppm</text>
</g>
<g fill="none" stroke="#000" stroke-width="2.6" stroke-miterlimit="10">
<circle cx="946.5" cy="441.2" r="11.6"/>
<path d="M935.3,505.4 l12.3,-12.3 l12.3,12.3 l-12.3,12.3 z"/>
<path d="M947.4,553.8 l12.5,21.6 h-25.0 z"/>
</g>
<text transform="translate(1029.2,64.4) scale(1,1.030)" font-size="45" letter-spacing="-0.22">(B) 125 ppm BSH</text>
<text transform="translate(1029.1,719.0) scale(1,1.010)" font-size="44.5">Kerma dose in tumor (Gy)</text>
<text transform="translate(31.9,366.7) rotate(-90) scale(1,1.04)" font-size="44.5" letter-spacing="-1.1">RBE</text>
</svg></body></html>
